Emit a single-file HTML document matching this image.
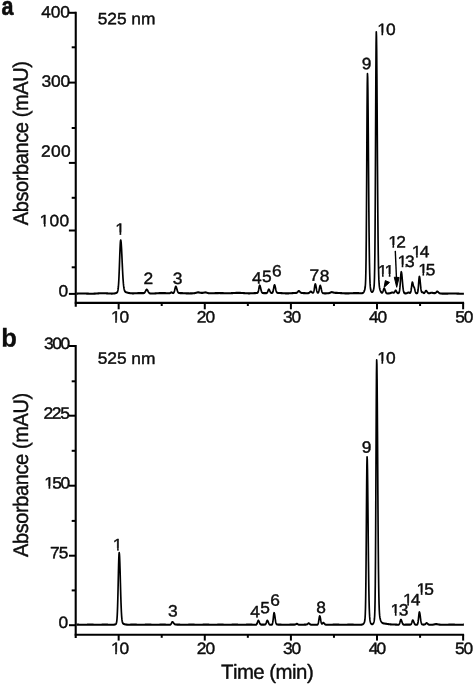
<!DOCTYPE html>
<html><head><meta charset="utf-8"><title>Chromatograms at 525 nm</title>
<style>
html,body{margin:0;padding:0;background:#fff}
svg{display:block}
text{font-family:"Liberation Sans",Arial,Helvetica,sans-serif;fill:#0d0d0d;stroke:#0d0d0d;stroke-width:0.4;stroke-linejoin:round;font-kerning:none;text-rendering:geometricPrecision}
line,path{stroke:#000}
</style></head><body>
<svg width="474" height="685" viewBox="0 0 474 685">
<rect x="0" y="0" width="474" height="685" fill="#fff" stroke="none"/>
<defs><clipPath id="c1"><path clip-rule="evenodd" d="M-60,-40H260V40H-60Z M0.45,-2.33H4.10V1.00H0.45Z M5.59,-2.33H9.12V1.00H5.59Z"/></clipPath>
<clipPath id="c2"><path clip-rule="evenodd" d="M-60,-40H260V40H-60Z M0.45,-2.33H4.10V1.00H0.45Z M5.59,-2.33H9.05V1.00H5.59Z"/></clipPath>
<clipPath id="c3"><path clip-rule="evenodd" d="M-60,-40H260V40H-60Z M0.45,-2.33H4.10V1.00H0.45Z M5.59,-2.33H9.12V1.00H5.59Z"/></clipPath>
<clipPath id="c4"><path clip-rule="evenodd" d="M-60,-40H260V40H-60Z M0.45,-2.33H4.10V1.00H0.45Z M5.59,-2.33H9.12V1.00H5.59Z"/></clipPath>
<clipPath id="c5"><path clip-rule="evenodd" d="M-60,-40H260V40H-60Z M0.45,-2.33H4.10V1.00H0.45Z M5.59,-2.33H10.52V1.00H5.59Z M12.01,-2.33H15.54V1.00H12.01Z"/></clipPath>
<clipPath id="c6"><path clip-rule="evenodd" d="M-60,-40H260V40H-60Z M0.45,-2.33H4.10V1.00H0.45Z M5.59,-2.33H8.30V1.00H5.59Z"/></clipPath>
<clipPath id="c7"><path clip-rule="evenodd" d="M-60,-40H260V40H-60Z M0.45,-2.33H4.10V1.00H0.45Z M5.59,-2.33H7.72V1.00H5.59Z"/></clipPath>
<clipPath id="c8"><path clip-rule="evenodd" d="M-60,-40H260V40H-60Z M0.45,-2.33H4.10V1.00H0.45Z M5.59,-2.33H9.12V1.00H5.59Z"/></clipPath>
<clipPath id="c9"><path clip-rule="evenodd" d="M-60,-40H260V40H-60Z M0.45,-2.33H4.10V1.00H0.45Z M5.59,-2.33H7.75V1.00H5.59Z"/></clipPath>
<clipPath id="c10"><path clip-rule="evenodd" d="M-60,-40H260V40H-60Z M0.45,-2.33H4.10V1.00H0.45Z M5.59,-2.33H8.20V1.00H5.59Z"/></clipPath>
<clipPath id="c11"><path clip-rule="evenodd" d="M-60,-40H260V40H-60Z M0.45,-2.33H4.10V1.00H0.45Z M5.59,-2.33H9.05V1.00H5.59Z"/></clipPath>
<clipPath id="c12"><path clip-rule="evenodd" d="M-60,-40H260V40H-60Z M0.45,-2.33H4.10V1.00H0.45Z M5.59,-2.33H9.12V1.00H5.59Z"/></clipPath>
<clipPath id="c13"><path clip-rule="evenodd" d="M-60,-40H260V40H-60Z M0.45,-2.33H4.10V1.00H0.45Z M5.59,-2.33H9.12V1.00H5.59Z"/></clipPath>
<clipPath id="c14"><path clip-rule="evenodd" d="M-60,-40H260V40H-60Z M0.45,-2.33H4.10V1.00H0.45Z M5.59,-2.33H8.38V1.00H5.59Z"/></clipPath>
<clipPath id="c15"><path clip-rule="evenodd" d="M-60,-40H260V40H-60Z M0.45,-2.33H4.10V1.00H0.45Z M5.59,-2.33H9.12V1.00H5.59Z"/></clipPath>
<clipPath id="c16"><path clip-rule="evenodd" d="M-60,-40H260V40H-60Z M0.45,-2.33H4.10V1.00H0.45Z M5.59,-2.33H8.03V1.00H5.59Z"/></clipPath></defs>
<line x1="75.75" y1="11.70" x2="75.75" y2="306.70" stroke-width="2.1"/>
<line x1="68.90" y1="12.80" x2="75.75" y2="12.80" stroke-width="2.0"/>
<line x1="68.90" y1="82.60" x2="75.75" y2="82.60" stroke-width="2.0"/>
<line x1="68.90" y1="162.90" x2="75.75" y2="162.90" stroke-width="2.0"/>
<line x1="68.90" y1="230.50" x2="75.75" y2="230.50" stroke-width="2.0"/>
<line x1="68.90" y1="293.90" x2="75.75" y2="293.90" stroke-width="2.0"/>
<line x1="71.70" y1="47.30" x2="75.75" y2="47.30" stroke-width="2.0"/>
<line x1="71.70" y1="128.00" x2="75.75" y2="128.00" stroke-width="2.0"/>
<line x1="71.70" y1="197.80" x2="75.75" y2="197.80" stroke-width="2.0"/>
<line x1="71.70" y1="267.30" x2="75.75" y2="267.30" stroke-width="2.0"/>
<line x1="74.75" y1="302.90" x2="464.10" y2="302.90" stroke-width="2.1"/>
<line x1="118.66" y1="302.90" x2="118.66" y2="309.30" stroke-width="2.0"/>
<line x1="161.72" y1="302.90" x2="161.72" y2="306.00" stroke-width="2.0"/>
<line x1="204.78" y1="302.90" x2="204.78" y2="309.30" stroke-width="2.0"/>
<line x1="247.84" y1="302.90" x2="247.84" y2="306.00" stroke-width="2.0"/>
<line x1="290.90" y1="302.90" x2="290.90" y2="309.30" stroke-width="2.0"/>
<line x1="333.96" y1="302.90" x2="333.96" y2="306.00" stroke-width="2.0"/>
<line x1="377.02" y1="302.90" x2="377.02" y2="309.30" stroke-width="2.0"/>
<line x1="420.08" y1="302.90" x2="420.08" y2="306.00" stroke-width="2.0"/>
<line x1="463.14" y1="302.90" x2="463.14" y2="309.30" stroke-width="2.0"/>
<text transform="translate(41.20,17.55) rotate(0.05) scale(1.0600,1.0)" font-size="16.4" letter-spacing="-0.154">400</text>
<text transform="translate(41.44,86.85) rotate(0.05) scale(1.0600,1.0)" font-size="16.4" letter-spacing="-0.171">300</text>
<text transform="translate(41.03,156.65) rotate(0.05) scale(1.0600,1.0)" font-size="16.4" letter-spacing="0.259">200</text>
<text transform="translate(39.58,226.35) rotate(0.05) scale(1.0600,1.0)" font-size="16.4" letter-spacing="0.235" clip-path="url(#c1)">100</text>
<text transform="translate(58.52,296.45) rotate(0.05) scale(1.0600,1.0)" font-size="16.4">0</text>
<text transform="translate(110.88,322.55) rotate(0.05) scale(1.0600,1.0)" font-size="16.4" letter-spacing="-1.069" clip-path="url(#c2)">10</text>
<text transform="translate(196.63,322.55) rotate(0.05) scale(1.0600,1.0)" font-size="16.4" letter-spacing="-0.833">20</text>
<text transform="translate(282.94,322.55) rotate(0.05) scale(1.0600,1.0)" font-size="16.4" letter-spacing="-1.128">30</text>
<text transform="translate(368.90,322.55) rotate(0.05) scale(1.0600,1.0)" font-size="16.4" letter-spacing="-0.904">40</text>
<text transform="translate(455.30,322.55) rotate(0.05) scale(1.0600,1.0)" font-size="16.4" letter-spacing="-1.095">50</text>
<text transform="translate(97.70,24.15) rotate(0.05) scale(1.0600,1.0)" font-size="16.4" letter-spacing="-0.046">525 nm</text>
<text transform="translate(28.00,225.14) rotate(-90.05) scale(1,1.05)" font-size="20.0" letter-spacing="-0.405">Absorbance (mAU)</text>
<text transform="translate(1.54,14.86) rotate(0.05) scale(0.8400,1.0)" font-size="25.6" font-weight="bold" style="stroke-width:0.6">a</text>
<text transform="translate(115.28,234.74) rotate(0.05) scale(1.0600,1.0)" font-size="16.4" clip-path="url(#c3)">1</text>
<text transform="translate(143.52,284.03) rotate(0.05) scale(1.0600,1.0)" font-size="16.4">2</text>
<text transform="translate(172.77,283.95) rotate(0.05) scale(1.0600,1.0)" font-size="16.4">3</text>
<text transform="translate(251.92,283.44) rotate(0.05) scale(1.0600,1.0)" font-size="16.4">4</text>
<text transform="translate(261.88,282.06) rotate(0.05) scale(1.0600,1.0)" font-size="16.4">5</text>
<text transform="translate(271.96,276.45) rotate(0.05) scale(1.0600,1.0)" font-size="16.4">6</text>
<text transform="translate(309.51,280.84) rotate(0.05) scale(1.0600,1.0)" font-size="16.4">7</text>
<text transform="translate(319.87,281.55) rotate(0.05) scale(1.0600,1.0)" font-size="16.4">8</text>
<text transform="translate(361.82,69.25) rotate(0.05) scale(1.0600,1.0)" font-size="16.4">9</text>
<text transform="translate(377.18,34.95) rotate(0.05) scale(1.0600,1.0)" font-size="16.4" letter-spacing="-0.880" clip-path="url(#c4)">10</text>
<text transform="translate(377.68,276.44) rotate(0.05) scale(1.0600,1.0)" font-size="16.4" letter-spacing="-2.701" clip-path="url(#c5)">11</text>
<text transform="translate(388.18,247.43) rotate(0.05) scale(1.0600,1.0)" font-size="16.4" letter-spacing="-1.545" clip-path="url(#c6)">12</text>
<text transform="translate(397.38,266.95) rotate(0.05) scale(1.0600,1.0)" font-size="16.4" letter-spacing="-2.027" clip-path="url(#c7)">13</text>
<text transform="translate(411.78,257.24) rotate(0.05) scale(1.0600,1.0)" font-size="16.4" letter-spacing="-1.606" clip-path="url(#c8)">14</text>
<text transform="translate(418.18,275.36) rotate(0.05) scale(1.0600,1.0)" font-size="16.4" letter-spacing="-1.964" clip-path="url(#c9)">15</text>
<path d="M395.3,250.9 L396.5,279" fill="none" stroke-width="1.4"/>
<path d="M394.3,277.2 L399.1,277.5 L396.7,287.3 Z" stroke="none" fill="#000"/>
<path d="M384.1,287.4 L385.3,280.6 L389.5,282.4 Z" stroke="none" fill="#000"/>
<g transform="scale(0.8,1)"><path d="M95.75,293.63 L96.00,293.63 L96.25,293.62 L96.50,293.61 L96.75,293.60 L97.00,293.60 L97.25,293.59 L97.50,293.58 L97.75,293.57 L98.00,293.57 L98.25,293.56 L98.50,293.55 L98.75,293.54 L99.00,293.54 L99.25,293.53 L99.50,293.52 L99.75,293.52 L100.00,293.51 L100.25,293.51 L100.50,293.50 L100.75,293.50 L101.00,293.49 L101.25,293.49 L101.50,293.49 L101.75,293.48 L102.00,293.48 L102.25,293.48 L102.50,293.48 L102.75,293.48 L103.00,293.48 L103.25,293.48 L103.50,293.48 L103.75,293.48 L104.00,293.48 L104.25,293.49 L104.50,293.49 L104.75,293.49 L105.00,293.50 L105.25,293.50 L105.50,293.51 L105.75,293.51 L106.00,293.52 L106.25,293.53 L106.50,293.53 L106.75,293.54 L107.00,293.55 L107.25,293.56 L107.50,293.56 L107.75,293.57 L108.00,293.58 L108.25,293.59 L108.50,293.60 L108.75,293.61 L109.00,293.61 L109.25,293.62 L109.50,293.63 L109.75,293.64 L110.00,293.65 L110.25,293.66 L110.50,293.66 L110.75,293.67 L111.00,293.68 L111.25,293.69 L111.50,293.69 L111.75,293.70 L112.00,293.70 L112.25,293.71 L112.50,293.71 L112.75,293.72 L113.00,293.72 L113.25,293.72 L113.50,293.72 L113.75,293.73 L114.00,293.73 L114.25,293.73 L114.50,293.73 L114.75,293.72 L115.00,293.72 L115.26,293.72 L115.51,293.71 L115.76,293.71 L116.01,293.71 L116.26,293.70 L116.51,293.69 L116.76,293.69 L117.01,293.68 L117.26,293.67 L117.51,293.66 L117.76,293.65 L118.01,293.64 L118.26,293.63 L118.51,293.62 L118.76,293.61 L119.01,293.59 L119.26,293.58 L119.51,293.57 L119.76,293.55 L120.01,293.54 L120.26,293.53 L120.51,293.51 L120.76,293.50 L121.01,293.48 L121.26,293.47 L121.51,293.45 L121.76,293.44 L122.01,293.43 L122.26,293.41 L122.51,293.40 L122.76,293.38 L123.01,293.37 L123.26,293.36 L123.51,293.34 L123.76,293.33 L124.01,293.32 L124.26,293.31 L124.51,293.30 L124.76,293.29 L125.01,293.28 L125.26,293.27 L125.51,293.26 L125.76,293.25 L126.01,293.24 L126.26,293.23 L126.51,293.23 L126.76,293.22 L127.01,293.22 L127.26,293.22 L127.51,293.21 L127.76,293.21 L128.01,293.21 L128.26,293.21 L128.51,293.21 L128.76,293.21 L129.01,293.21 L129.26,293.22 L129.51,293.22 L129.76,293.22 L130.01,293.23 L130.26,293.23 L130.51,293.24 L130.76,293.25 L131.01,293.26 L131.26,293.26 L131.51,293.27 L131.76,293.28 L132.01,293.29 L132.26,293.30 L132.51,293.31 L132.76,293.32 L133.01,293.34 L133.26,293.35 L133.51,293.36 L133.76,293.37 L134.01,293.38 L134.26,293.40 L134.51,293.41 L134.76,293.42 L135.01,293.43 L135.26,293.44 L135.51,293.46 L135.76,293.47 L136.01,293.48 L136.26,293.49 L136.51,293.50 L136.76,293.51 L137.01,293.52 L137.26,293.53 L137.51,293.54 L137.76,293.55 L138.01,293.56 L138.26,293.56 L138.51,293.57 L138.76,293.57 L139.01,293.58 L139.26,293.58 L139.51,293.58 L139.76,293.58 L140.01,293.58 L140.26,293.58 L140.51,293.58 L140.76,293.57 L141.01,293.57 L141.26,293.56 L141.51,293.55 L141.76,293.54 L142.01,293.52 L142.26,293.50 L142.51,293.48 L142.76,293.46 L143.01,293.43 L143.26,293.40 L143.51,293.37 L143.76,293.33 L144.01,293.29 L144.26,293.25 L144.51,293.20 L144.76,293.14 L145.01,293.08 L145.26,293.01 L145.51,292.93 L145.76,292.84 L146.01,292.71 L146.26,292.55 L146.51,292.32 L146.76,291.98 L147.01,291.49 L147.26,290.77 L147.51,289.73 L147.76,288.26 L148.01,286.25 L148.26,283.60 L148.51,280.23 L148.76,276.11 L149.01,271.30 L149.26,265.94 L149.51,260.27 L149.76,254.63 L150.01,249.43 L150.26,245.07 L150.51,241.95 L150.76,240.35 L151.01,240.32 L151.26,241.39 L151.51,243.43 L151.76,246.33 L152.01,249.91 L152.26,253.98 L152.51,258.34 L152.76,262.79 L153.01,267.14 L153.26,271.26 L153.51,275.03 L153.76,278.38 L154.02,281.27 L154.27,283.71 L154.52,285.71 L154.77,287.31 L155.02,288.57 L155.27,289.53 L155.52,290.26 L155.77,290.81 L156.02,291.21 L156.27,291.51 L156.52,291.73 L156.77,291.89 L157.02,292.02 L157.27,292.12 L157.52,292.21 L157.77,292.29 L158.02,292.35 L158.27,292.42 L158.52,292.48 L158.77,292.54 L159.02,292.59 L159.27,292.65 L159.52,292.70 L159.77,292.75 L160.02,292.80 L160.27,292.84 L160.52,292.89 L160.77,292.93 L161.02,292.97 L161.27,293.01 L161.52,293.05 L161.77,293.08 L162.02,293.11 L162.27,293.14 L162.52,293.17 L162.77,293.19 L163.02,293.22 L163.27,293.24 L163.52,293.25 L163.77,293.27 L164.02,293.29 L164.27,293.30 L164.52,293.31 L164.77,293.32 L165.02,293.33 L165.27,293.33 L165.52,293.34 L165.77,293.34 L166.02,293.34 L166.27,293.34 L166.52,293.34 L166.77,293.34 L167.02,293.34 L167.27,293.33 L167.52,293.33 L167.77,293.32 L168.02,293.31 L168.27,293.31 L168.52,293.30 L168.77,293.29 L169.02,293.28 L169.27,293.27 L169.52,293.26 L169.77,293.25 L170.02,293.24 L170.27,293.23 L170.52,293.22 L170.77,293.21 L171.02,293.20 L171.27,293.20 L171.52,293.19 L171.77,293.18 L172.02,293.17 L172.27,293.16 L172.52,293.15 L172.77,293.14 L173.02,293.14 L173.27,293.13 L173.52,293.12 L173.77,293.12 L174.02,293.11 L174.27,293.11 L174.52,293.10 L174.77,293.10 L175.02,293.10 L175.27,293.10 L175.52,293.10 L175.77,293.10 L176.02,293.10 L176.27,293.10 L176.52,293.10 L176.77,293.10 L177.02,293.11 L177.27,293.11 L177.52,293.11 L177.77,293.12 L178.02,293.12 L178.27,293.13 L178.52,293.13 L178.77,293.14 L179.02,293.13 L179.27,293.12 L179.52,293.10 L179.77,293.07 L180.02,293.01 L180.27,292.91 L180.52,292.78 L180.77,292.60 L181.02,292.37 L181.27,292.08 L181.52,291.74 L181.77,291.36 L182.02,290.96 L182.27,290.56 L182.52,290.19 L182.77,289.89 L183.02,289.68 L183.27,289.58 L183.52,289.59 L183.77,289.70 L184.02,289.89 L184.27,290.15 L184.52,290.47 L184.77,290.81 L185.02,291.18 L185.27,291.54 L185.52,291.88 L185.77,292.20 L186.02,292.48 L186.27,292.72 L186.52,292.92 L186.77,293.08 L187.02,293.21 L187.27,293.31 L187.52,293.38 L187.77,293.43 L188.02,293.47 L188.27,293.50 L188.52,293.51 L188.77,293.52 L189.02,293.53 L189.27,293.53 L189.52,293.53 L189.77,293.53 L190.02,293.53 L190.27,293.53 L190.52,293.52 L190.77,293.52 L191.02,293.51 L191.27,293.51 L191.52,293.50 L191.77,293.49 L192.02,293.48 L192.27,293.47 L192.52,293.46 L192.78,293.45 L193.03,293.44 L193.28,293.43 L193.53,293.42 L193.78,293.41 L194.03,293.39 L194.28,293.38 L194.53,293.37 L194.78,293.36 L195.03,293.34 L195.28,293.33 L195.53,293.32 L195.78,293.30 L196.03,293.29 L196.28,293.28 L196.53,293.27 L196.78,293.25 L197.03,293.24 L197.28,293.23 L197.53,293.22 L197.78,293.21 L198.03,293.19 L198.28,293.18 L198.53,293.17 L198.78,293.16 L199.03,293.16 L199.28,293.15 L199.53,293.14 L199.78,293.13 L200.03,293.12 L200.28,293.12 L200.53,293.11 L200.78,293.11 L201.03,293.10 L201.28,293.10 L201.53,293.10 L201.78,293.10 L202.03,293.09 L202.28,293.09 L202.53,293.09 L202.78,293.09 L203.03,293.09 L203.28,293.10 L203.53,293.10 L203.78,293.10 L204.03,293.10 L204.28,293.11 L204.53,293.11 L204.78,293.12 L205.03,293.12 L205.28,293.13 L205.53,293.13 L205.78,293.14 L206.03,293.14 L206.28,293.15 L206.53,293.16 L206.78,293.17 L207.03,293.17 L207.28,293.18 L207.53,293.19 L207.78,293.19 L208.03,293.20 L208.28,293.21 L208.53,293.22 L208.78,293.22 L209.03,293.23 L209.28,293.24 L209.53,293.24 L209.78,293.25 L210.03,293.25 L210.28,293.26 L210.53,293.26 L210.78,293.27 L211.03,293.27 L211.28,293.27 L211.53,293.26 L211.78,293.24 L212.03,293.21 L212.28,293.16 L212.53,293.09 L212.78,292.99 L213.03,292.86 L213.28,292.73 L213.53,292.60 L213.78,292.48 L214.03,292.41 L214.28,292.39 L214.53,292.42 L214.78,292.50 L215.03,292.61 L215.28,292.74 L215.53,292.87 L215.78,292.97 L216.03,293.05 L216.28,293.08 L216.53,293.07 L216.78,293.00 L217.03,292.86 L217.28,292.62 L217.53,292.27 L217.78,291.78 L218.03,291.15 L218.28,290.38 L218.53,289.52 L218.78,288.62 L219.03,287.79 L219.28,287.11 L219.53,286.68 L219.78,286.55 L220.03,286.68 L220.28,287.01 L220.53,287.52 L220.78,288.15 L221.03,288.85 L221.28,289.57 L221.53,290.26 L221.78,290.89 L222.03,291.43 L222.28,291.88 L222.53,292.24 L222.78,292.51 L223.03,292.70 L223.28,292.84 L223.53,292.93 L223.78,292.99 L224.03,293.03 L224.28,293.05 L224.53,293.07 L224.78,293.08 L225.03,293.08 L225.28,293.09 L225.53,293.09 L225.78,293.10 L226.03,293.10 L226.28,293.11 L226.53,293.11 L226.78,293.12 L227.03,293.13 L227.28,293.13 L227.53,293.14 L227.78,293.15 L228.03,293.16 L228.28,293.17 L228.53,293.18 L228.78,293.19 L229.03,293.20 L229.28,293.21 L229.53,293.22 L229.78,293.23 L230.03,293.24 L230.28,293.25 L230.53,293.26 L230.78,293.27 L231.03,293.28 L231.28,293.29 L231.54,293.30 L231.79,293.31 L232.04,293.32 L232.29,293.33 L232.54,293.34 L232.79,293.35 L233.04,293.36 L233.29,293.37 L233.54,293.38 L233.79,293.38 L234.04,293.39 L234.29,293.40 L234.54,293.40 L234.79,293.41 L235.04,293.41 L235.29,293.42 L235.54,293.42 L235.79,293.42 L236.04,293.42 L236.29,293.43 L236.54,293.43 L236.79,293.43 L237.04,293.42 L237.29,293.42 L237.54,293.42 L237.79,293.42 L238.04,293.41 L238.29,293.41 L238.54,293.40 L238.79,293.39 L239.04,293.39 L239.29,293.38 L239.54,293.37 L239.79,293.36 L240.04,293.35 L240.29,293.34 L240.54,293.33 L240.79,293.31 L241.04,293.30 L241.29,293.29 L241.54,293.27 L241.79,293.26 L242.04,293.24 L242.29,293.22 L242.54,293.21 L242.79,293.18 L243.04,293.16 L243.29,293.13 L243.54,293.10 L243.79,293.07 L244.04,293.03 L244.29,292.98 L244.54,292.94 L244.79,292.88 L245.04,292.83 L245.29,292.77 L245.54,292.71 L245.79,292.65 L246.04,292.59 L246.29,292.53 L246.54,292.48 L246.79,292.44 L247.04,292.40 L247.29,292.38 L247.54,292.37 L247.79,292.37 L248.04,292.38 L248.29,292.40 L248.54,292.42 L248.79,292.46 L249.04,292.50 L249.29,292.55 L249.54,292.59 L249.79,292.64 L250.04,292.68 L250.29,292.72 L250.54,292.76 L250.79,292.79 L251.04,292.81 L251.29,292.84 L251.54,292.86 L251.79,292.87 L252.04,292.88 L252.29,292.88 L252.54,292.88 L252.79,292.88 L253.04,292.87 L253.29,292.85 L253.54,292.83 L253.79,292.80 L254.04,292.77 L254.29,292.73 L254.54,292.69 L254.79,292.65 L255.04,292.60 L255.29,292.56 L255.54,292.51 L255.79,292.48 L256.04,292.45 L256.29,292.42 L256.54,292.41 L256.79,292.41 L257.04,292.43 L257.29,292.45 L257.54,292.49 L257.79,292.54 L258.04,292.59 L258.29,292.65 L258.54,292.72 L258.79,292.78 L259.04,292.85 L259.29,292.91 L259.54,292.97 L259.79,293.02 L260.04,293.07 L260.29,293.11 L260.54,293.15 L260.79,293.18 L261.04,293.21 L261.29,293.23 L261.54,293.24 L261.79,293.25 L262.04,293.26 L262.29,293.27 L262.54,293.28 L262.79,293.28 L263.04,293.28 L263.29,293.28 L263.54,293.28 L263.79,293.28 L264.04,293.28 L264.29,293.28 L264.54,293.27 L264.79,293.27 L265.04,293.27 L265.29,293.26 L265.54,293.26 L265.79,293.25 L266.04,293.24 L266.29,293.24 L266.54,293.23 L266.79,293.23 L267.04,293.22 L267.29,293.21 L267.54,293.20 L267.79,293.20 L268.04,293.19 L268.29,293.18 L268.54,293.17 L268.79,293.17 L269.04,293.16 L269.29,293.15 L269.54,293.14 L269.79,293.14 L270.05,293.13 L270.30,293.12 L270.55,293.12 L270.80,293.11 L271.05,293.11 L271.30,293.10 L271.55,293.10 L271.80,293.09 L272.05,293.09 L272.30,293.08 L272.55,293.08 L272.80,293.08 L273.05,293.08 L273.30,293.08 L273.55,293.07 L273.80,293.07 L274.05,293.07 L274.30,293.07 L274.55,293.08 L274.80,293.08 L275.05,293.08 L275.30,293.08 L275.55,293.08 L275.80,293.09 L276.05,293.09 L276.30,293.10 L276.55,293.10 L276.80,293.11 L277.05,293.11 L277.30,293.12 L277.55,293.12 L277.80,293.13 L278.05,293.14 L278.30,293.14 L278.55,293.15 L278.80,293.16 L279.05,293.17 L279.30,293.17 L279.55,293.18 L279.80,293.19 L280.05,293.20 L280.30,293.20 L280.55,293.21 L280.80,293.22 L281.05,293.22 L281.30,293.23 L281.55,293.24 L281.80,293.24 L282.05,293.25 L282.30,293.25 L282.55,293.26 L282.80,293.26 L283.05,293.26 L283.30,293.27 L283.55,293.27 L283.80,293.27 L284.05,293.27 L284.30,293.27 L284.55,293.27 L284.80,293.27 L285.05,293.27 L285.30,293.27 L285.55,293.27 L285.80,293.27 L286.05,293.26 L286.30,293.26 L286.55,293.25 L286.80,293.25 L287.05,293.24 L287.30,293.24 L287.55,293.23 L287.80,293.22 L288.05,293.21 L288.30,293.20 L288.55,293.19 L288.80,293.18 L289.05,293.17 L289.30,293.16 L289.55,293.15 L289.80,293.14 L290.05,293.13 L290.30,293.12 L290.55,293.11 L290.80,293.09 L291.05,293.08 L291.30,293.07 L291.55,293.06 L291.80,293.05 L292.05,293.03 L292.30,293.02 L292.55,293.01 L292.80,293.00 L293.05,292.99 L293.30,292.97 L293.55,292.96 L293.80,292.95 L294.05,292.94 L294.30,292.93 L294.55,292.92 L294.80,292.91 L295.05,292.91 L295.30,292.90 L295.55,292.89 L295.80,292.89 L296.05,292.88 L296.30,292.88 L296.55,292.87 L296.80,292.87 L297.05,292.87 L297.30,292.86 L297.55,292.86 L297.80,292.86 L298.05,292.86 L298.30,292.86 L298.55,292.87 L298.80,292.87 L299.05,292.87 L299.30,292.88 L299.55,292.88 L299.80,292.89 L300.05,292.89 L300.30,292.90 L300.55,292.91 L300.80,292.92 L301.05,292.93 L301.30,292.94 L301.55,292.95 L301.80,292.96 L302.05,292.97 L302.30,292.98 L302.55,293.00 L302.80,293.01 L303.05,293.02 L303.30,293.03 L303.55,293.05 L303.80,293.06 L304.05,293.07 L304.30,293.09 L304.55,293.10 L304.80,293.12 L305.05,293.13 L305.30,293.14 L305.55,293.16 L305.80,293.17 L306.05,293.18 L306.30,293.20 L306.55,293.21 L306.80,293.22 L307.05,293.23 L307.30,293.24 L307.55,293.26 L307.80,293.27 L308.05,293.27 L308.30,293.28 L308.55,293.29 L308.81,293.30 L309.06,293.31 L309.31,293.31 L309.56,293.32 L309.81,293.32 L310.06,293.33 L310.31,293.33 L310.56,293.33 L310.81,293.34 L311.06,293.34 L311.31,293.34 L311.56,293.34 L311.81,293.34 L312.06,293.33 L312.31,293.33 L312.56,293.33 L312.81,293.32 L313.06,293.32 L313.31,293.31 L313.56,293.31 L313.81,293.30 L314.06,293.30 L314.31,293.29 L314.56,293.28 L314.81,293.27 L315.06,293.26 L315.31,293.25 L315.56,293.24 L315.81,293.23 L316.06,293.22 L316.31,293.21 L316.56,293.20 L316.81,293.19 L317.06,293.18 L317.31,293.17 L317.56,293.16 L317.81,293.15 L318.06,293.14 L318.31,293.13 L318.56,293.12 L318.81,293.10 L319.06,293.09 L319.31,293.08 L319.56,293.08 L319.81,293.07 L320.06,293.06 L320.31,293.05 L320.56,293.04 L320.81,293.03 L321.06,293.01 L321.31,292.99 L321.56,292.95 L321.81,292.87 L322.06,292.72 L322.31,292.48 L322.56,292.10 L322.81,291.53 L323.06,290.76 L323.31,289.79 L323.56,288.68 L323.81,287.54 L324.06,286.51 L324.31,285.76 L324.56,285.41 L324.81,285.47 L325.06,285.84 L325.31,286.45 L325.56,287.25 L325.81,288.15 L326.06,289.07 L326.31,289.94 L326.56,290.72 L326.81,291.37 L327.06,291.89 L327.31,292.27 L327.56,292.55 L327.81,292.75 L328.06,292.88 L328.31,292.96 L328.56,293.01 L328.81,293.04 L329.06,293.06 L329.31,293.08 L329.56,293.09 L329.81,293.10 L330.06,293.10 L330.31,293.11 L330.56,293.12 L330.81,293.12 L331.06,293.13 L331.31,293.13 L331.56,293.14 L331.81,293.14 L332.06,293.15 L332.31,293.15 L332.56,293.14 L332.81,293.13 L333.06,293.11 L333.31,293.06 L333.56,292.97 L333.81,292.82 L334.06,292.59 L334.31,292.25 L334.56,291.81 L334.81,291.29 L335.06,290.72 L335.31,290.16 L335.56,289.71 L335.81,289.42 L336.06,289.36 L336.31,289.46 L336.56,289.71 L336.81,290.06 L337.06,290.48 L337.31,290.94 L337.56,291.38 L337.81,291.79 L338.06,292.13 L338.31,292.41 L338.56,292.63 L338.81,292.78 L339.06,292.89 L339.31,292.95 L339.56,292.98 L339.81,292.98 L340.06,292.95 L340.31,292.87 L340.56,292.72 L340.81,292.46 L341.06,292.06 L341.31,291.45 L341.56,290.63 L341.81,289.60 L342.06,288.43 L342.31,287.22 L342.56,286.13 L342.81,285.34 L343.06,284.97 L343.31,285.04 L343.56,285.42 L343.81,286.07 L344.06,286.90 L344.31,287.85 L344.56,288.81 L344.81,289.72 L345.06,290.53 L345.31,291.20 L345.56,291.73 L345.81,292.14 L346.06,292.42 L346.31,292.62 L346.56,292.75 L346.81,292.83 L347.06,292.88 L347.31,292.91 L347.57,292.93 L347.82,292.95 L348.07,292.96 L348.32,292.97 L348.57,292.97 L348.82,292.98 L349.07,292.99 L349.32,293.00 L349.57,293.01 L349.82,293.02 L350.07,293.03 L350.32,293.04 L350.57,293.05 L350.82,293.07 L351.07,293.08 L351.32,293.09 L351.57,293.10 L351.82,293.12 L352.07,293.13 L352.32,293.14 L352.57,293.16 L352.82,293.17 L353.07,293.18 L353.32,293.19 L353.57,293.21 L353.82,293.22 L354.07,293.23 L354.32,293.24 L354.57,293.25 L354.82,293.26 L355.07,293.28 L355.32,293.29 L355.57,293.30 L355.82,293.30 L356.07,293.31 L356.32,293.32 L356.57,293.33 L356.82,293.33 L357.07,293.34 L357.32,293.35 L357.57,293.35 L357.82,293.35 L358.07,293.36 L358.32,293.36 L358.57,293.36 L358.82,293.36 L359.07,293.36 L359.32,293.36 L359.57,293.36 L359.82,293.36 L360.07,293.35 L360.32,293.35 L360.57,293.34 L360.82,293.34 L361.07,293.33 L361.32,293.32 L361.57,293.32 L361.82,293.31 L362.07,293.30 L362.32,293.29 L362.57,293.28 L362.82,293.27 L363.07,293.26 L363.32,293.25 L363.57,293.23 L363.82,293.22 L364.07,293.21 L364.32,293.20 L364.57,293.18 L364.82,293.17 L365.07,293.16 L365.32,293.14 L365.57,293.13 L365.82,293.11 L366.07,293.10 L366.32,293.09 L366.57,293.07 L366.82,293.06 L367.07,293.05 L367.32,293.03 L367.57,293.02 L367.82,293.01 L368.07,293.00 L368.32,292.99 L368.57,292.98 L368.82,292.97 L369.07,292.96 L369.32,292.95 L369.57,292.94 L369.82,292.92 L370.07,292.91 L370.32,292.88 L370.57,292.85 L370.82,292.80 L371.07,292.72 L371.32,292.61 L371.57,292.46 L371.82,292.27 L372.07,292.05 L372.32,291.80 L372.57,291.54 L372.82,291.31 L373.07,291.13 L373.32,291.02 L373.57,291.01 L373.82,291.06 L374.07,291.17 L374.32,291.33 L374.57,291.52 L374.82,291.73 L375.07,291.95 L375.32,292.15 L375.57,292.34 L375.82,292.50 L376.07,292.64 L376.32,292.74 L376.57,292.83 L376.82,292.89 L377.07,292.94 L377.32,292.97 L377.57,293.00 L377.82,293.02 L378.07,293.03 L378.32,293.05 L378.57,293.06 L378.82,293.07 L379.07,293.08 L379.32,293.09 L379.57,293.10 L379.82,293.11 L380.07,293.12 L380.32,293.13 L380.57,293.14 L380.82,293.15 L381.07,293.15 L381.32,293.16 L381.57,293.17 L381.82,293.18 L382.07,293.18 L382.32,293.19 L382.57,293.19 L382.82,293.20 L383.07,293.20 L383.32,293.20 L383.57,293.21 L383.82,293.21 L384.07,293.21 L384.32,293.21 L384.57,293.20 L384.82,293.19 L385.07,293.17 L385.32,293.15 L385.57,293.11 L385.82,293.05 L386.07,292.96 L386.33,292.85 L386.58,292.71 L386.83,292.54 L387.08,292.35 L387.33,292.16 L387.58,291.96 L387.83,291.79 L388.08,291.66 L388.33,291.58 L388.58,291.56 L388.83,291.61 L389.08,291.71 L389.33,291.85 L389.58,292.03 L389.83,292.21 L390.08,292.40 L390.33,292.56 L390.58,292.69 L390.83,292.78 L391.08,292.82 L391.33,292.79 L391.58,292.66 L391.83,292.39 L392.08,291.94 L392.33,291.27 L392.58,290.34 L392.83,289.18 L393.08,287.86 L393.33,286.51 L393.58,285.31 L393.83,284.44 L394.08,284.06 L394.33,284.19 L394.58,284.75 L394.83,285.64 L395.08,286.76 L395.33,287.97 L395.58,289.14 L395.83,290.19 L396.08,291.06 L396.33,291.73 L396.58,292.22 L396.83,292.55 L397.08,292.74 L397.33,292.82 L397.58,292.79 L397.83,292.65 L398.08,292.36 L398.33,291.90 L398.58,291.23 L398.83,290.35 L399.08,289.30 L399.33,288.17 L399.58,287.08 L399.83,286.20 L400.08,285.68 L400.33,285.59 L400.58,285.84 L400.83,286.37 L401.08,287.10 L401.33,287.98 L401.58,288.90 L401.83,289.81 L402.08,290.63 L402.33,291.34 L402.58,291.92 L402.83,292.36 L403.08,292.69 L403.33,292.92 L403.58,293.07 L403.83,293.17 L404.08,293.23 L404.33,293.27 L404.58,293.30 L404.83,293.31 L405.08,293.32 L405.33,293.33 L405.58,293.33 L405.83,293.33 L406.08,293.33 L406.33,293.34 L406.58,293.34 L406.83,293.34 L407.08,293.34 L407.33,293.33 L407.58,293.33 L407.83,293.33 L408.08,293.32 L408.33,293.32 L408.58,293.31 L408.83,293.31 L409.08,293.30 L409.33,293.29 L409.58,293.28 L409.83,293.27 L410.08,293.26 L410.33,293.24 L410.58,293.22 L410.83,293.20 L411.08,293.16 L411.33,293.12 L411.58,293.07 L411.83,293.01 L412.08,292.94 L412.33,292.85 L412.58,292.76 L412.83,292.66 L413.08,292.56 L413.33,292.45 L413.58,292.36 L413.83,292.28 L414.08,292.21 L414.33,292.17 L414.58,292.16 L414.83,292.16 L415.08,292.17 L415.33,292.20 L415.58,292.24 L415.83,292.30 L416.08,292.35 L416.33,292.42 L416.58,292.48 L416.83,292.54 L417.08,292.60 L417.33,292.65 L417.58,292.70 L417.83,292.74 L418.08,292.77 L418.33,292.80 L418.58,292.82 L418.83,292.84 L419.08,292.86 L419.33,292.87 L419.58,292.88 L419.83,292.88 L420.08,292.89 L420.33,292.89 L420.58,292.90 L420.83,292.90 L421.08,292.90 L421.33,292.91 L421.58,292.91 L421.83,292.92 L422.08,292.93 L422.33,292.93 L422.58,292.94 L422.83,292.95 L423.08,292.96 L423.33,292.97 L423.58,292.98 L423.83,292.99 L424.08,293.00 L424.33,293.01 L424.58,293.03 L424.83,293.04 L425.09,293.05 L425.34,293.06 L425.59,293.08 L425.84,293.09 L426.09,293.11 L426.34,293.12 L426.59,293.13 L426.84,293.15 L427.09,293.16 L427.34,293.17 L427.59,293.19 L427.84,293.20 L428.09,293.21 L428.34,293.23 L428.59,293.24 L428.84,293.25 L429.09,293.26 L429.34,293.27 L429.59,293.28 L429.84,293.29 L430.09,293.30 L430.34,293.31 L430.59,293.32 L430.84,293.33 L431.09,293.34 L431.34,293.34 L431.59,293.35 L431.84,293.36 L432.09,293.36 L432.34,293.36 L432.59,293.37 L432.84,293.37 L433.09,293.37 L433.34,293.37 L433.59,293.37 L433.84,293.37 L434.09,293.37 L434.34,293.37 L434.59,293.37 L434.84,293.36 L435.09,293.36 L435.34,293.36 L435.59,293.35 L435.84,293.35 L436.09,293.34 L436.34,293.34 L436.59,293.33 L436.84,293.32 L437.09,293.32 L437.34,293.31 L437.59,293.30 L437.84,293.29 L438.09,293.28 L438.34,293.27 L438.59,293.27 L438.84,293.26 L439.09,293.25 L439.34,293.24 L439.59,293.23 L439.84,293.22 L440.09,293.21 L440.34,293.21 L440.59,293.20 L440.84,293.19 L441.09,293.18 L441.34,293.18 L441.59,293.17 L441.84,293.16 L442.09,293.16 L442.34,293.15 L442.59,293.15 L442.84,293.14 L443.09,293.14 L443.34,293.13 L443.59,293.13 L443.84,293.13 L444.09,293.12 L444.34,293.12 L444.59,293.12 L444.84,293.12 L445.09,293.12 L445.34,293.12 L445.59,293.12 L445.84,293.12 L446.09,293.13 L446.34,293.13 L446.59,293.13 L446.84,293.13 L447.09,293.14 L447.34,293.14 L447.59,293.15 L447.84,293.15 L448.09,293.16 L448.34,293.16 L448.59,293.17 L448.84,293.18 L449.09,293.18 L449.34,293.19 L449.59,293.20 L449.84,293.20 L450.09,293.21 L450.34,293.22 L450.59,293.22 L450.84,293.23 L451.09,293.23 L451.34,293.23 L451.59,293.23 L451.84,293.23 L452.09,293.22 L452.34,293.21 L452.59,293.19 L452.84,293.15 L453.09,293.11 L453.34,293.04 L453.59,292.95 L453.84,292.83 L454.09,292.67 L454.34,292.47 L454.59,292.22 L454.84,291.91 L455.09,291.54 L455.34,291.09 L455.59,290.56 L455.84,289.93 L456.09,289.15 L456.34,288.09 L456.59,286.49 L456.84,283.83 L457.09,279.20 L457.34,271.26 L457.59,258.32 L457.84,238.78 L458.09,211.90 L458.34,178.68 L458.59,142.49 L458.84,108.83 L459.09,84.14 L459.34,73.79 L459.59,77.27 L459.84,89.58 L460.09,109.14 L460.34,133.63 L460.59,160.43 L460.84,187.06 L461.09,211.53 L461.34,232.57 L461.59,249.60 L461.84,262.67 L462.09,272.21 L462.34,278.90 L462.59,283.41 L462.84,286.38 L463.09,288.32 L463.34,289.58 L463.59,290.41 L463.85,290.98 L464.10,291.38 L464.35,291.66 L464.60,291.85 L464.85,291.96 L465.10,292.00 L465.35,291.96 L465.60,291.85 L465.85,291.67 L466.10,291.40 L466.35,291.04 L466.60,290.59 L466.85,290.00 L467.10,289.23 L467.35,288.11 L467.60,286.34 L467.85,283.26 L468.10,277.79 L468.35,268.32 L468.60,252.82 L468.85,229.39 L469.10,197.17 L469.35,157.38 L469.60,114.06 L469.85,73.81 L470.10,44.30 L470.35,31.93 L470.60,35.96 L470.85,50.52 L471.10,73.67 L471.35,102.66 L471.60,134.36 L471.85,165.84 L472.10,194.75 L472.35,219.58 L472.60,239.67 L472.85,255.08 L473.10,266.35 L473.35,274.26 L473.60,279.63 L473.85,283.22 L474.10,285.61 L474.35,287.23 L474.60,288.39 L474.85,289.26 L475.10,289.95 L475.35,290.52 L475.60,291.00 L475.85,291.42 L476.10,291.77 L476.35,292.07 L476.60,292.32 L476.85,292.52 L477.10,292.66 L477.35,292.73 L477.60,292.72 L477.85,292.63 L478.10,292.42 L478.35,292.09 L478.60,291.64 L478.85,291.09 L479.10,290.46 L479.35,289.82 L479.60,289.24 L479.85,288.80 L480.10,288.55 L480.35,288.53 L480.60,288.71 L480.85,289.07 L481.10,289.56 L481.35,290.13 L481.60,290.74 L481.85,291.32 L482.10,291.85 L482.35,292.30 L482.60,292.67 L482.85,292.94 L483.10,293.14 L483.35,293.28 L483.60,293.36 L483.85,293.41 L484.10,293.44 L484.35,293.45 L484.60,293.46 L484.85,293.45 L485.10,293.44 L485.35,293.43 L485.60,293.42 L485.85,293.41 L486.10,293.39 L486.35,293.37 L486.60,293.35 L486.85,293.32 L487.10,293.28 L487.35,293.24 L487.60,293.19 L487.85,293.13 L488.10,293.06 L488.35,292.98 L488.60,292.90 L488.85,292.82 L489.10,292.74 L489.35,292.67 L489.60,292.60 L489.85,292.55 L490.10,292.52 L490.35,292.51 L490.60,292.52 L490.85,292.54 L491.10,292.58 L491.35,292.63 L491.60,292.68 L491.85,292.71 L492.10,292.72 L492.35,292.69 L492.60,292.61 L492.85,292.45 L493.10,292.21 L493.35,291.90 L493.60,291.54 L493.85,291.17 L494.10,290.84 L494.35,290.61 L494.60,290.53 L494.85,290.60 L495.10,290.82 L495.35,291.14 L495.60,291.53 L495.85,291.92 L496.10,292.28 L496.35,292.57 L496.60,292.80 L496.85,292.95 L497.10,293.05 L497.35,293.11 L497.60,293.14 L497.85,293.14 L498.10,293.11 L498.35,293.02 L498.60,292.84 L498.85,292.52 L499.10,291.96 L499.35,291.07 L499.60,289.75 L499.85,287.93 L500.10,285.59 L500.35,282.81 L500.60,279.80 L500.85,276.85 L501.10,274.33 L501.35,272.60 L501.60,271.93 L501.85,272.26 L502.10,273.32 L502.35,275.01 L502.61,277.16 L502.86,279.57 L503.11,282.04 L503.36,284.40 L503.61,286.52 L503.86,288.33 L504.11,289.80 L504.36,290.93 L504.61,291.77 L504.86,292.36 L505.11,292.76 L505.36,293.03 L505.61,293.19 L505.86,293.28 L506.11,293.34 L506.36,293.37 L506.61,293.38 L506.86,293.39 L507.11,293.38 L507.36,293.37 L507.61,293.35 L507.86,293.32 L508.11,293.28 L508.36,293.23 L508.61,293.16 L508.86,293.08 L509.11,292.99 L509.36,292.89 L509.61,292.78 L509.86,292.69 L510.11,292.61 L510.36,292.56 L510.61,292.54 L510.86,292.54 L511.11,292.58 L511.36,292.64 L511.61,292.72 L511.86,292.80 L512.11,292.87 L512.36,292.91 L512.61,292.89 L512.86,292.79 L513.11,292.54 L513.36,292.09 L513.61,291.39 L513.86,290.38 L514.11,289.07 L514.36,287.52 L514.61,285.86 L514.86,284.30 L515.11,283.06 L515.36,282.35 L515.61,282.26 L515.86,282.68 L516.11,283.47 L516.36,284.45 L516.61,285.41 L516.86,286.16 L517.11,286.63 L517.36,286.90 L517.61,287.15 L517.86,287.55 L518.11,288.19 L518.36,288.99 L518.61,289.89 L518.86,290.78 L519.11,291.58 L519.36,292.22 L519.61,292.68 L519.86,292.98 L520.11,293.16 L520.36,293.27 L520.61,293.32 L520.86,293.33 L521.11,293.32 L521.36,293.24 L521.61,293.08 L521.86,292.76 L522.11,292.17 L522.36,291.21 L522.61,289.77 L522.86,287.80 L523.11,285.35 L523.36,282.65 L523.61,280.03 L523.86,277.91 L524.11,276.71 L524.36,276.60 L524.61,277.31 L524.86,278.65 L525.11,280.48 L525.36,282.58 L525.61,284.72 L525.86,286.74 L526.11,288.49 L526.36,289.88 L526.61,290.92 L526.86,291.61 L527.11,292.01 L527.36,292.20 L527.61,292.26 L527.86,292.26 L528.11,292.26 L528.36,292.30 L528.61,292.40 L528.86,292.54 L529.11,292.71 L529.36,292.88 L529.61,293.02 L529.86,293.10 L530.11,293.11 L530.36,293.03 L530.61,292.86 L530.86,292.60 L531.11,292.28 L531.36,291.92 L531.61,291.54 L531.86,291.20 L532.11,290.94 L532.36,290.79 L532.61,290.77 L532.86,290.85 L533.11,291.00 L533.36,291.23 L533.61,291.50 L533.86,291.79 L534.11,292.08 L534.36,292.36 L534.61,292.60 L534.86,292.81 L535.11,292.97 L535.36,293.09 L535.61,293.18 L535.86,293.23 L536.11,293.25 L536.36,293.25 L536.61,293.24 L536.86,293.21 L537.11,293.17 L537.36,293.12 L537.61,293.06 L537.86,293.00 L538.11,292.94 L538.36,292.88 L538.61,292.83 L538.86,292.79 L539.11,292.76 L539.36,292.74 L539.61,292.74 L539.86,292.76 L540.11,292.78 L540.36,292.82 L540.61,292.86 L540.86,292.90 L541.11,292.95 L541.37,293.00 L541.62,293.04 L541.87,293.08 L542.12,293.11 L542.37,293.13 L542.62,293.15 L542.87,293.16 L543.12,293.17 L543.37,293.16 L543.62,293.14 L543.87,293.10 L544.12,293.04 L544.37,292.94 L544.62,292.80 L544.87,292.62 L545.12,292.42 L545.37,292.19 L545.62,291.96 L545.87,291.75 L546.12,291.60 L546.37,291.52 L546.62,291.53 L546.87,291.59 L547.12,291.69 L547.37,291.84 L547.62,292.01 L547.87,292.20 L548.12,292.39 L548.37,292.58 L548.62,292.76 L548.87,292.92 L549.12,293.06 L549.37,293.17 L549.62,293.27 L549.87,293.34 L550.12,293.40 L550.37,293.45 L550.62,293.48 L550.87,293.51 L551.12,293.53 L551.37,293.55 L551.62,293.56 L551.87,293.57 L552.12,293.58 L552.37,293.59 L552.62,293.60 L552.87,293.61 L553.12,293.62 L553.37,293.62 L553.62,293.63 L553.87,293.63 L554.12,293.64 L554.37,293.64 L554.62,293.64 L554.87,293.65 L555.12,293.65 L555.37,293.65 L555.62,293.65 L555.87,293.65 L556.12,293.65 L556.37,293.65 L556.62,293.65 L556.87,293.64 L557.12,293.64 L557.37,293.64 L557.62,293.63 L557.87,293.63 L558.12,293.62 L558.37,293.62 L558.62,293.61 L558.87,293.61 L559.12,293.60 L559.37,293.60 L559.62,293.59 L559.87,293.58 L560.12,293.58 L560.37,293.57 L560.62,293.56 L560.87,293.56 L561.12,293.55 L561.37,293.55 L561.62,293.54 L561.87,293.53 L562.12,293.53 L562.37,293.52 L562.62,293.52 L562.87,293.51 L563.12,293.51 L563.37,293.50 L563.62,293.50 L563.87,293.49 L564.12,293.49 L564.37,293.49 L564.62,293.48 L564.87,293.48 L565.12,293.48 L565.37,293.48 L565.62,293.48 L565.87,293.48 L566.12,293.48 L566.37,293.48 L566.62,293.48 L566.87,293.48 L567.12,293.49 L567.37,293.49 L567.62,293.49 L567.87,293.50 L568.12,293.50 L568.37,293.51 L568.62,293.51 L568.87,293.52 L569.12,293.53 L569.37,293.53 L569.62,293.54 L569.87,293.55 L570.12,293.55 L570.37,293.56 L570.62,293.57 L570.87,293.58 L571.12,293.59 L571.37,293.59 L571.62,293.60 L571.87,293.61 L572.12,293.62 L572.37,293.63 L572.62,293.63 L572.87,293.64 L573.12,293.65 L573.37,293.66 L573.62,293.67 L573.87,293.67 L574.12,293.68 L574.37,293.68 L574.62,293.69 L574.87,293.70 L575.12,293.70 L575.37,293.71 L575.62,293.71 L575.87,293.71 L576.12,293.72 L576.37,293.72 L576.62,293.72 L576.87,293.72 L577.12,293.72 L577.37,293.72 L577.62,293.72 L577.87,293.72 L578.12,293.72 L578.37,293.72 L578.62,293.71 L578.87,293.71 L579.12,293.70 L579.37,293.70 L579.62,293.69 L579.87,293.69" fill="none" stroke-width="2.1" stroke-linejoin="round" stroke-linecap="butt"/></g>
<line x1="75.70" y1="345.00" x2="75.70" y2="637.90" stroke-width="2.1"/>
<line x1="69.00" y1="346.00" x2="75.70" y2="346.00" stroke-width="2.0"/>
<line x1="69.00" y1="415.70" x2="75.70" y2="415.70" stroke-width="2.0"/>
<line x1="69.00" y1="485.70" x2="75.70" y2="485.70" stroke-width="2.0"/>
<line x1="69.00" y1="555.70" x2="75.70" y2="555.70" stroke-width="2.0"/>
<line x1="69.00" y1="625.20" x2="75.70" y2="625.20" stroke-width="2.0"/>
<line x1="71.70" y1="381.30" x2="75.70" y2="381.30" stroke-width="2.0"/>
<line x1="71.70" y1="450.80" x2="75.70" y2="450.80" stroke-width="2.0"/>
<line x1="71.70" y1="520.90" x2="75.70" y2="520.90" stroke-width="2.0"/>
<line x1="71.70" y1="590.40" x2="75.70" y2="590.40" stroke-width="2.0"/>
<line x1="74.70" y1="634.70" x2="464.10" y2="634.70" stroke-width="2.1"/>
<line x1="118.66" y1="634.70" x2="118.66" y2="640.60" stroke-width="2.0"/>
<line x1="161.72" y1="634.70" x2="161.72" y2="637.80" stroke-width="2.0"/>
<line x1="204.78" y1="634.70" x2="204.78" y2="640.60" stroke-width="2.0"/>
<line x1="247.84" y1="634.70" x2="247.84" y2="637.80" stroke-width="2.0"/>
<line x1="290.90" y1="634.70" x2="290.90" y2="640.60" stroke-width="2.0"/>
<line x1="333.96" y1="634.70" x2="333.96" y2="637.80" stroke-width="2.0"/>
<line x1="377.02" y1="634.70" x2="377.02" y2="640.60" stroke-width="2.0"/>
<line x1="420.08" y1="634.70" x2="420.08" y2="637.80" stroke-width="2.0"/>
<line x1="463.14" y1="634.70" x2="463.14" y2="640.60" stroke-width="2.0"/>
<text transform="translate(43.94,348.95) rotate(0.05) scale(1.0600,1.0)" font-size="16.4" letter-spacing="-1.351">300</text>
<text transform="translate(43.43,418.85) rotate(0.05) scale(1.0600,1.0)" font-size="16.4" letter-spacing="-1.179">225</text>
<text transform="translate(44.28,488.55) rotate(0.05) scale(1.0600,1.0)" font-size="16.4" letter-spacing="-1.510" clip-path="url(#c10)">150</text>
<text transform="translate(50.11,558.26) rotate(0.05) scale(1.0600,1.0)" font-size="16.4" letter-spacing="-1.052">75</text>
<text transform="translate(58.52,628.05) rotate(0.05) scale(1.0600,1.0)" font-size="16.4">0</text>
<text transform="translate(110.88,653.95) rotate(0.05) scale(1.0600,1.0)" font-size="16.4" letter-spacing="-1.069" clip-path="url(#c11)">10</text>
<text transform="translate(196.63,653.95) rotate(0.05) scale(1.0600,1.0)" font-size="16.4" letter-spacing="-0.833">20</text>
<text transform="translate(282.94,653.95) rotate(0.05) scale(1.0600,1.0)" font-size="16.4" letter-spacing="-1.128">30</text>
<text transform="translate(368.70,653.95) rotate(0.05) scale(1.0600,1.0)" font-size="16.4" letter-spacing="-1.659">40</text>
<text transform="translate(455.00,653.95) rotate(0.05) scale(1.0600,1.0)" font-size="16.4" letter-spacing="-1.001">50</text>
<text transform="translate(97.70,363.85) rotate(0.05) scale(1.0600,1.0)" font-size="16.4" letter-spacing="-0.046">525 nm</text>
<text transform="translate(28.10,556.94) rotate(-90.05) scale(1,1.05)" font-size="20.0" letter-spacing="-0.399">Absorbance (mAU)</text>
<text transform="translate(1.31,346.45) rotate(0.05) scale(1.0000,1.0)" font-size="25.6" font-weight="bold" style="stroke-width:0.3">b</text>
<text transform="translate(220.94,678.68) rotate(0.05) scale(1.0000,1.0)" font-size="20.4" letter-spacing="-0.515">Time (min)</text>
<text transform="translate(112.78,550.24) rotate(0.05) scale(1.0600,1.0)" font-size="16.4" clip-path="url(#c12)">1</text>
<text transform="translate(168.07,616.45) rotate(0.05) scale(1.0600,1.0)" font-size="16.4">3</text>
<text transform="translate(250.22,617.24) rotate(0.05) scale(1.0600,1.0)" font-size="16.4">4</text>
<text transform="translate(260.18,613.36) rotate(0.05) scale(1.0600,1.0)" font-size="16.4">5</text>
<text transform="translate(270.36,605.85) rotate(0.05) scale(1.0600,1.0)" font-size="16.4">6</text>
<text transform="translate(316.17,612.95) rotate(0.05) scale(1.0600,1.0)" font-size="16.4">8</text>
<text transform="translate(361.82,452.75) rotate(0.05) scale(1.0600,1.0)" font-size="16.4">9</text>
<text transform="translate(377.18,363.55) rotate(0.05) scale(1.0600,1.0)" font-size="16.4" letter-spacing="-0.880" clip-path="url(#c13)">10</text>
<text transform="translate(390.58,615.45) rotate(0.05) scale(1.0600,1.0)" font-size="16.4" letter-spacing="-1.366" clip-path="url(#c14)">13</text>
<text transform="translate(402.98,605.14) rotate(0.05) scale(1.0600,1.0)" font-size="16.4" letter-spacing="-1.889" clip-path="url(#c15)">14</text>
<text transform="translate(416.48,594.86) rotate(0.05) scale(1.0600,1.0)" font-size="16.4" letter-spacing="-1.681" clip-path="url(#c16)">15</text>
<g transform="scale(0.8,1)"><path d="M95.75,624.59 L96.00,624.59 L96.25,624.59 L96.50,624.60 L96.75,624.61 L97.00,624.61 L97.25,624.62 L97.50,624.63 L97.75,624.64 L98.00,624.65 L98.25,624.66 L98.50,624.66 L98.75,624.68 L99.00,624.69 L99.25,624.70 L99.50,624.71 L99.75,624.72 L100.00,624.73 L100.25,624.74 L100.50,624.75 L100.75,624.76 L101.00,624.77 L101.25,624.77 L101.50,624.78 L101.75,624.79 L102.00,624.80 L102.25,624.80 L102.50,624.81 L102.75,624.81 L103.00,624.81 L103.25,624.82 L103.50,624.82 L103.75,624.82 L104.00,624.82 L104.25,624.82 L104.50,624.82 L104.75,624.81 L105.00,624.81 L105.25,624.81 L105.50,624.80 L105.75,624.80 L106.00,624.79 L106.25,624.78 L106.50,624.77 L106.75,624.76 L107.00,624.76 L107.25,624.75 L107.50,624.74 L107.75,624.73 L108.00,624.72 L108.25,624.71 L108.50,624.70 L108.75,624.68 L109.00,624.67 L109.25,624.66 L109.50,624.65 L109.75,624.65 L110.00,624.64 L110.25,624.63 L110.50,624.62 L110.75,624.61 L111.00,624.61 L111.25,624.60 L111.50,624.59 L111.75,624.59 L112.00,624.59 L112.25,624.58 L112.50,624.58 L112.75,624.58 L113.00,624.58 L113.25,624.58 L113.50,624.58 L113.75,624.59 L114.00,624.59 L114.25,624.59 L114.50,624.60 L114.75,624.60 L115.00,624.61 L115.26,624.62 L115.51,624.63 L115.76,624.63 L116.01,624.64 L116.26,624.65 L116.51,624.66 L116.76,624.67 L117.01,624.68 L117.26,624.69 L117.51,624.70 L117.76,624.71 L118.01,624.72 L118.26,624.73 L118.51,624.74 L118.76,624.75 L119.01,624.76 L119.26,624.77 L119.51,624.78 L119.76,624.79 L120.01,624.79 L120.26,624.80 L120.51,624.81 L120.76,624.81 L121.01,624.81 L121.26,624.82 L121.51,624.82 L121.76,624.82 L122.01,624.82 L122.26,624.82 L122.51,624.82 L122.76,624.82 L123.01,624.81 L123.26,624.81 L123.51,624.80 L123.76,624.80 L124.01,624.79 L124.26,624.78 L124.51,624.78 L124.76,624.77 L125.01,624.76 L125.26,624.75 L125.51,624.74 L125.76,624.73 L126.01,624.72 L126.26,624.71 L126.51,624.70 L126.76,624.69 L127.01,624.68 L127.26,624.67 L127.51,624.66 L127.76,624.65 L128.01,624.64 L128.26,624.63 L128.51,624.62 L128.76,624.61 L129.01,624.61 L129.26,624.60 L129.51,624.60 L129.76,624.59 L130.01,624.59 L130.26,624.58 L130.51,624.58 L130.76,624.58 L131.01,624.58 L131.26,624.58 L131.51,624.58 L131.76,624.58 L132.01,624.59 L132.26,624.59 L132.51,624.60 L132.76,624.60 L133.01,624.61 L133.26,624.62 L133.51,624.62 L133.76,624.63 L134.01,624.64 L134.26,624.65 L134.51,624.66 L134.76,624.67 L135.01,624.68 L135.26,624.69 L135.51,624.70 L135.76,624.71 L136.01,624.72 L136.26,624.73 L136.51,624.74 L136.76,624.75 L137.01,624.76 L137.26,624.77 L137.51,624.78 L137.76,624.78 L138.01,624.79 L138.26,624.80 L138.51,624.80 L138.76,624.80 L139.01,624.81 L139.26,624.81 L139.51,624.81 L139.76,624.81 L140.01,624.81 L140.26,624.80 L140.51,624.79 L140.76,624.79 L141.01,624.78 L141.26,624.76 L141.51,624.75 L141.76,624.73 L142.01,624.71 L142.26,624.68 L142.51,624.65 L142.76,624.62 L143.01,624.59 L143.26,624.55 L143.51,624.50 L143.76,624.45 L144.01,624.39 L144.26,624.32 L144.51,624.22 L144.76,624.09 L145.01,623.89 L145.26,623.57 L145.51,623.05 L145.76,622.20 L146.01,620.86 L146.26,618.81 L146.51,615.82 L146.76,611.65 L147.01,606.15 L147.26,599.28 L147.51,591.22 L147.76,582.37 L148.01,573.39 L148.26,565.11 L148.51,558.42 L148.76,554.10 L149.01,552.70 L149.26,553.86 L149.51,557.04 L149.76,561.96 L150.01,568.20 L150.26,575.29 L150.51,582.71 L150.76,590.01 L151.01,596.82 L151.26,602.87 L151.51,608.03 L151.76,612.24 L152.01,615.56 L152.26,618.08 L152.51,619.93 L152.76,621.25 L153.01,622.17 L153.26,622.79 L153.51,623.21 L153.76,623.49 L154.02,623.68 L154.27,623.81 L154.52,623.92 L154.77,624.00 L155.02,624.07 L155.27,624.13 L155.52,624.19 L155.77,624.24 L156.02,624.30 L156.27,624.34 L156.52,624.39 L156.77,624.43 L157.02,624.47 L157.27,624.51 L157.52,624.54 L157.77,624.57 L158.02,624.59 L158.27,624.62 L158.52,624.64 L158.77,624.66 L159.02,624.67 L159.27,624.69 L159.52,624.70 L159.77,624.70 L160.02,624.71 L160.27,624.71 L160.52,624.72 L160.77,624.72 L161.02,624.72 L161.27,624.71 L161.52,624.71 L161.77,624.70 L162.02,624.70 L162.27,624.69 L162.52,624.68 L162.77,624.68 L163.02,624.67 L163.27,624.66 L163.52,624.65 L163.77,624.64 L164.02,624.64 L164.27,624.63 L164.52,624.62 L164.77,624.61 L165.02,624.61 L165.27,624.60 L165.52,624.60 L165.77,624.59 L166.02,624.59 L166.27,624.58 L166.52,624.58 L166.77,624.58 L167.02,624.58 L167.27,624.58 L167.52,624.58 L167.77,624.58 L168.02,624.59 L168.27,624.59 L168.52,624.59 L168.77,624.60 L169.02,624.61 L169.27,624.61 L169.52,624.62 L169.77,624.63 L170.02,624.64 L170.27,624.65 L170.52,624.66 L170.77,624.67 L171.02,624.68 L171.27,624.69 L171.52,624.70 L171.77,624.71 L172.02,624.72 L172.27,624.73 L172.52,624.74 L172.77,624.75 L173.02,624.76 L173.27,624.77 L173.52,624.77 L173.77,624.78 L174.02,624.79 L174.27,624.80 L174.52,624.80 L174.77,624.81 L175.02,624.81 L175.27,624.81 L175.52,624.82 L175.77,624.82 L176.02,624.82 L176.27,624.82 L176.52,624.82 L176.77,624.82 L177.02,624.81 L177.27,624.81 L177.52,624.81 L177.77,624.80 L178.02,624.79 L178.27,624.79 L178.52,624.78 L178.77,624.77 L179.02,624.76 L179.27,624.76 L179.52,624.75 L179.77,624.74 L180.02,624.73 L180.27,624.72 L180.52,624.70 L180.77,624.69 L181.02,624.68 L181.27,624.67 L181.52,624.66 L181.77,624.65 L182.02,624.64 L182.27,624.64 L182.52,624.63 L182.77,624.62 L183.02,624.61 L183.27,624.60 L183.52,624.60 L183.77,624.59 L184.02,624.59 L184.27,624.59 L184.52,624.58 L184.77,624.58 L185.02,624.58 L185.27,624.58 L185.52,624.58 L185.77,624.58 L186.02,624.59 L186.27,624.59 L186.52,624.59 L186.77,624.60 L187.02,624.60 L187.27,624.61 L187.52,624.62 L187.77,624.63 L188.02,624.63 L188.27,624.64 L188.52,624.65 L188.77,624.66 L189.02,624.67 L189.27,624.68 L189.52,624.69 L189.77,624.70 L190.02,624.71 L190.27,624.72 L190.52,624.73 L190.77,624.74 L191.02,624.75 L191.27,624.76 L191.52,624.77 L191.77,624.78 L192.02,624.79 L192.27,624.79 L192.52,624.80 L192.78,624.81 L193.03,624.81 L193.28,624.81 L193.53,624.82 L193.78,624.82 L194.03,624.82 L194.28,624.82 L194.53,624.82 L194.78,624.82 L195.03,624.81 L195.28,624.81 L195.53,624.81 L195.78,624.80 L196.03,624.80 L196.28,624.79 L196.53,624.78 L196.78,624.77 L197.03,624.77 L197.28,624.76 L197.53,624.75 L197.78,624.74 L198.03,624.73 L198.28,624.72 L198.53,624.71 L198.78,624.70 L199.03,624.69 L199.28,624.68 L199.53,624.67 L199.78,624.66 L200.03,624.65 L200.28,624.64 L200.53,624.63 L200.78,624.62 L201.03,624.61 L201.28,624.61 L201.53,624.60 L201.78,624.59 L202.03,624.59 L202.28,624.59 L202.53,624.58 L202.78,624.58 L203.03,624.58 L203.28,624.58 L203.53,624.58 L203.78,624.58 L204.03,624.58 L204.28,624.59 L204.53,624.59 L204.78,624.60 L205.03,624.60 L205.28,624.61 L205.53,624.62 L205.78,624.62 L206.03,624.63 L206.28,624.64 L206.53,624.65 L206.78,624.66 L207.03,624.67 L207.28,624.68 L207.53,624.69 L207.78,624.70 L208.03,624.71 L208.28,624.72 L208.53,624.73 L208.78,624.74 L209.03,624.75 L209.28,624.76 L209.53,624.77 L209.78,624.78 L210.03,624.79 L210.28,624.79 L210.53,624.80 L210.78,624.80 L211.03,624.81 L211.28,624.81 L211.53,624.81 L211.78,624.81 L212.03,624.80 L212.28,624.77 L212.53,624.73 L212.78,624.67 L213.03,624.56 L213.28,624.41 L213.53,624.20 L213.78,623.93 L214.03,623.60 L214.28,623.24 L214.53,622.85 L214.78,622.49 L215.03,622.20 L215.28,622.01 L215.53,621.95 L215.78,621.99 L216.03,622.10 L216.28,622.28 L216.53,622.50 L216.78,622.76 L217.03,623.03 L217.28,623.30 L217.53,623.55 L217.78,623.78 L218.03,623.98 L218.28,624.14 L218.53,624.27 L218.78,624.37 L219.03,624.44 L219.28,624.49 L219.53,624.53 L219.78,624.55 L220.03,624.56 L220.28,624.57 L220.53,624.57 L220.78,624.58 L221.03,624.58 L221.28,624.58 L221.53,624.58 L221.78,624.58 L222.03,624.58 L222.28,624.59 L222.53,624.59 L222.78,624.60 L223.03,624.60 L223.28,624.61 L223.53,624.61 L223.78,624.62 L224.03,624.63 L224.28,624.64 L224.53,624.65 L224.78,624.66 L225.03,624.67 L225.28,624.68 L225.53,624.69 L225.78,624.70 L226.03,624.71 L226.28,624.72 L226.53,624.73 L226.78,624.74 L227.03,624.75 L227.28,624.76 L227.53,624.77 L227.78,624.78 L228.03,624.78 L228.28,624.79 L228.53,624.80 L228.78,624.80 L229.03,624.81 L229.28,624.81 L229.53,624.82 L229.78,624.82 L230.03,624.82 L230.28,624.82 L230.53,624.82 L230.78,624.82 L231.03,624.82 L231.28,624.81 L231.54,624.81 L231.79,624.80 L232.04,624.80 L232.29,624.79 L232.54,624.79 L232.79,624.78 L233.04,624.77 L233.29,624.76 L233.54,624.75 L233.79,624.74 L234.04,624.73 L234.29,624.72 L234.54,624.71 L234.79,624.70 L235.04,624.69 L235.29,624.68 L235.54,624.67 L235.79,624.66 L236.04,624.65 L236.29,624.64 L236.54,624.63 L236.79,624.62 L237.04,624.62 L237.29,624.61 L237.54,624.60 L237.79,624.60 L238.04,624.59 L238.29,624.59 L238.54,624.58 L238.79,624.58 L239.04,624.58 L239.29,624.58 L239.54,624.58 L239.79,624.58 L240.04,624.58 L240.29,624.59 L240.54,624.59 L240.79,624.59 L241.04,624.60 L241.29,624.61 L241.54,624.61 L241.79,624.62 L242.04,624.63 L242.29,624.64 L242.54,624.65 L242.79,624.66 L243.04,624.67 L243.29,624.68 L243.54,624.69 L243.79,624.70 L244.04,624.71 L244.29,624.72 L244.54,624.73 L244.79,624.74 L245.04,624.75 L245.29,624.76 L245.54,624.77 L245.79,624.77 L246.04,624.78 L246.29,624.79 L246.54,624.80 L246.79,624.80 L247.04,624.81 L247.29,624.81 L247.54,624.81 L247.79,624.82 L248.04,624.82 L248.29,624.82 L248.54,624.82 L248.79,624.82 L249.04,624.82 L249.29,624.81 L249.54,624.81 L249.79,624.81 L250.04,624.80 L250.29,624.79 L250.54,624.79 L250.79,624.78 L251.04,624.77 L251.29,624.76 L251.54,624.75 L251.79,624.75 L252.04,624.74 L252.29,624.73 L252.54,624.71 L252.79,624.70 L253.04,624.69 L253.29,624.68 L253.54,624.67 L253.79,624.66 L254.04,624.65 L254.29,624.64 L254.54,624.64 L254.79,624.63 L255.04,624.62 L255.29,624.61 L255.54,624.60 L255.79,624.60 L256.04,624.59 L256.29,624.59 L256.54,624.59 L256.79,624.58 L257.04,624.58 L257.29,624.58 L257.54,624.58 L257.79,624.58 L258.04,624.58 L258.29,624.59 L258.54,624.59 L258.79,624.59 L259.04,624.60 L259.29,624.60 L259.54,624.61 L259.79,624.62 L260.04,624.63 L260.29,624.64 L260.54,624.64 L260.79,624.65 L261.04,624.66 L261.29,624.67 L261.54,624.68 L261.79,624.69 L262.04,624.70 L262.29,624.72 L262.54,624.73 L262.79,624.74 L263.04,624.75 L263.29,624.75 L263.54,624.76 L263.79,624.77 L264.04,624.78 L264.29,624.79 L264.54,624.79 L264.79,624.80 L265.04,624.81 L265.29,624.81 L265.54,624.81 L265.79,624.82 L266.04,624.82 L266.29,624.82 L266.54,624.82 L266.79,624.82 L267.04,624.82 L267.29,624.81 L267.54,624.81 L267.79,624.81 L268.04,624.80 L268.29,624.80 L268.54,624.79 L268.79,624.78 L269.04,624.77 L269.29,624.77 L269.54,624.76 L269.79,624.75 L270.05,624.74 L270.30,624.73 L270.55,624.72 L270.80,624.71 L271.05,624.70 L271.30,624.69 L271.55,624.68 L271.80,624.67 L272.05,624.66 L272.30,624.65 L272.55,624.64 L272.80,624.63 L273.05,624.62 L273.30,624.61 L273.55,624.61 L273.80,624.60 L274.05,624.59 L274.30,624.59 L274.55,624.59 L274.80,624.58 L275.05,624.58 L275.30,624.58 L275.55,624.58 L275.80,624.58 L276.05,624.58 L276.30,624.58 L276.55,624.59 L276.80,624.59 L277.05,624.60 L277.30,624.60 L277.55,624.61 L277.80,624.62 L278.05,624.62 L278.30,624.63 L278.55,624.64 L278.80,624.65 L279.05,624.66 L279.30,624.67 L279.55,624.68 L279.80,624.69 L280.05,624.70 L280.30,624.71 L280.55,624.72 L280.80,624.73 L281.05,624.74 L281.30,624.75 L281.55,624.76 L281.80,624.77 L282.05,624.78 L282.30,624.79 L282.55,624.79 L282.80,624.80 L283.05,624.80 L283.30,624.81 L283.55,624.81 L283.80,624.82 L284.05,624.82 L284.30,624.82 L284.55,624.82 L284.80,624.82 L285.05,624.82 L285.30,624.82 L285.55,624.81 L285.80,624.81 L286.05,624.80 L286.30,624.80 L286.55,624.79 L286.80,624.78 L287.05,624.78 L287.30,624.77 L287.55,624.76 L287.80,624.75 L288.05,624.74 L288.30,624.73 L288.55,624.72 L288.80,624.71 L289.05,624.70 L289.30,624.69 L289.55,624.68 L289.80,624.67 L290.05,624.66 L290.30,624.65 L290.55,624.64 L290.80,624.63 L291.05,624.62 L291.30,624.61 L291.55,624.61 L291.80,624.60 L292.05,624.60 L292.30,624.59 L292.55,624.59 L292.80,624.58 L293.05,624.58 L293.30,624.58 L293.55,624.58 L293.80,624.58 L294.05,624.58 L294.30,624.58 L294.55,624.59 L294.80,624.59 L295.05,624.60 L295.30,624.60 L295.55,624.61 L295.80,624.62 L296.05,624.62 L296.30,624.63 L296.55,624.64 L296.80,624.65 L297.05,624.66 L297.30,624.67 L297.55,624.68 L297.80,624.69 L298.05,624.70 L298.30,624.71 L298.55,624.72 L298.80,624.73 L299.05,624.74 L299.30,624.75 L299.55,624.76 L299.80,624.77 L300.05,624.78 L300.30,624.78 L300.55,624.79 L300.80,624.80 L301.05,624.80 L301.30,624.81 L301.55,624.81 L301.80,624.82 L302.05,624.82 L302.30,624.82 L302.55,624.82 L302.80,624.82 L303.05,624.82 L303.30,624.82 L303.55,624.81 L303.80,624.81 L304.05,624.80 L304.30,624.80 L304.55,624.79 L304.80,624.79 L305.05,624.78 L305.30,624.77 L305.55,624.76 L305.80,624.75 L306.05,624.74 L306.30,624.73 L306.55,624.72 L306.80,624.71 L307.05,624.70 L307.30,624.69 L307.55,624.68 L307.80,624.67 L308.05,624.66 L308.30,624.65 L308.55,624.64 L308.81,624.63 L309.06,624.62 L309.31,624.62 L309.56,624.61 L309.81,624.60 L310.06,624.60 L310.31,624.59 L310.56,624.59 L310.81,624.58 L311.06,624.58 L311.31,624.58 L311.56,624.58 L311.81,624.58 L312.06,624.58 L312.31,624.58 L312.56,624.59 L312.81,624.59 L313.06,624.59 L313.31,624.60 L313.56,624.61 L313.81,624.61 L314.06,624.62 L314.31,624.63 L314.56,624.64 L314.81,624.65 L315.06,624.66 L315.31,624.67 L315.56,624.68 L315.81,624.69 L316.06,624.70 L316.31,624.71 L316.56,624.72 L316.81,624.73 L317.06,624.74 L317.31,624.75 L317.56,624.76 L317.81,624.77 L318.06,624.77 L318.31,624.78 L318.56,624.79 L318.81,624.80 L319.06,624.80 L319.31,624.80 L319.56,624.79 L319.81,624.78 L320.06,624.74 L320.31,624.66 L320.56,624.53 L320.81,624.32 L321.06,624.01 L321.31,623.59 L321.56,623.05 L321.81,622.43 L322.06,621.80 L322.31,621.22 L322.56,620.80 L322.81,620.60 L323.06,620.63 L323.31,620.82 L323.56,621.15 L323.81,621.58 L324.06,622.06 L324.31,622.56 L324.56,623.03 L324.81,623.45 L325.06,623.79 L325.31,624.06 L325.56,624.26 L325.81,624.41 L326.06,624.50 L326.31,624.56 L326.56,624.59 L326.81,624.61 L327.06,624.61 L327.31,624.61 L327.56,624.61 L327.81,624.60 L328.06,624.60 L328.31,624.59 L328.56,624.59 L328.81,624.59 L329.06,624.58 L329.31,624.58 L329.56,624.58 L329.81,624.58 L330.06,624.58 L330.31,624.58 L330.56,624.58 L330.81,624.57 L331.06,624.56 L331.31,624.52 L331.56,624.45 L331.81,624.32 L332.06,624.12 L332.31,623.82 L332.56,623.40 L332.81,622.87 L333.06,622.27 L333.31,621.65 L333.56,621.09 L333.81,620.69 L334.06,620.50 L334.31,620.55 L334.56,620.76 L334.81,621.11 L335.06,621.56 L335.31,622.07 L335.56,622.59 L335.81,623.07 L336.06,623.51 L336.31,623.87 L336.56,624.16 L336.81,624.38 L337.06,624.54 L337.31,624.64 L337.56,624.71 L337.81,624.76 L338.06,624.79 L338.31,624.80 L338.56,624.81 L338.81,624.81 L339.06,624.81 L339.31,624.79 L339.56,624.76 L339.81,624.68 L340.06,624.52 L340.31,624.24 L340.56,623.74 L340.81,622.97 L341.06,621.84 L341.31,620.34 L341.56,618.55 L341.81,616.64 L342.06,614.88 L342.31,613.57 L342.56,612.95 L342.81,613.07 L343.06,613.69 L343.31,614.72 L343.56,616.05 L343.81,617.53 L344.06,619.00 L344.31,620.36 L344.56,621.54 L344.81,622.48 L345.06,623.20 L345.31,623.71 L345.56,624.06 L345.81,624.29 L346.06,624.42 L346.31,624.50 L346.56,624.54 L346.81,624.56 L347.06,624.57 L347.31,624.58 L347.57,624.58 L347.82,624.58 L348.07,624.58 L348.32,624.58 L348.57,624.58 L348.82,624.59 L349.07,624.59 L349.32,624.60 L349.57,624.60 L349.82,624.61 L350.07,624.62 L350.32,624.63 L350.57,624.63 L350.82,624.64 L351.07,624.65 L351.32,624.66 L351.57,624.67 L351.82,624.68 L352.07,624.69 L352.32,624.70 L352.57,624.71 L352.82,624.72 L353.07,624.73 L353.32,624.74 L353.57,624.75 L353.82,624.76 L354.07,624.77 L354.32,624.78 L354.57,624.79 L354.82,624.79 L355.07,624.80 L355.32,624.81 L355.57,624.81 L355.82,624.81 L356.07,624.82 L356.32,624.82 L356.57,624.82 L356.82,624.82 L357.07,624.82 L357.32,624.82 L357.57,624.82 L357.82,624.81 L358.07,624.81 L358.32,624.80 L358.57,624.80 L358.82,624.79 L359.07,624.78 L359.32,624.78 L359.57,624.77 L359.82,624.76 L360.07,624.75 L360.32,624.74 L360.57,624.73 L360.82,624.72 L361.07,624.71 L361.32,624.70 L361.57,624.69 L361.82,624.68 L362.07,624.67 L362.32,624.66 L362.57,624.65 L362.82,624.64 L363.07,624.63 L363.32,624.62 L363.57,624.61 L363.82,624.61 L364.07,624.60 L364.32,624.60 L364.57,624.59 L364.82,624.59 L365.07,624.58 L365.32,624.58 L365.57,624.58 L365.82,624.58 L366.07,624.58 L366.32,624.58 L366.57,624.58 L366.82,624.59 L367.07,624.59 L367.32,624.59 L367.57,624.60 L367.82,624.60 L368.07,624.59 L368.32,624.58 L368.57,624.56 L368.82,624.53 L369.07,624.48 L369.32,624.41 L369.57,624.32 L369.82,624.22 L370.07,624.11 L370.32,624.00 L370.57,623.91 L370.82,623.85 L371.07,623.83 L371.32,623.85 L371.57,623.92 L371.82,624.02 L372.07,624.14 L372.32,624.27 L372.57,624.39 L372.82,624.50 L373.07,624.60 L373.32,624.67 L373.57,624.72 L373.82,624.76 L374.07,624.79 L374.32,624.80 L374.57,624.81 L374.82,624.82 L375.07,624.82 L375.32,624.82 L375.57,624.82 L375.82,624.81 L376.07,624.81 L376.32,624.80 L376.57,624.80 L376.82,624.79 L377.07,624.79 L377.32,624.78 L377.57,624.77 L377.82,624.76 L378.07,624.75 L378.32,624.74 L378.57,624.73 L378.82,624.72 L379.07,624.71 L379.32,624.70 L379.57,624.69 L379.82,624.68 L380.07,624.67 L380.32,624.66 L380.57,624.65 L380.82,624.64 L381.07,624.63 L381.32,624.62 L381.57,624.62 L381.82,624.61 L382.07,624.60 L382.32,624.59 L382.57,624.57 L382.82,624.55 L383.07,624.53 L383.32,624.48 L383.57,624.42 L383.82,624.33 L384.07,624.22 L384.32,624.08 L384.57,623.92 L384.82,623.75 L385.07,623.58 L385.32,623.44 L385.57,623.35 L385.82,623.31 L386.07,623.33 L386.33,623.42 L386.58,623.56 L386.83,623.73 L387.08,623.91 L387.33,624.09 L387.58,624.25 L387.83,624.39 L388.08,624.50 L388.33,624.58 L388.58,624.64 L388.83,624.68 L389.08,624.71 L389.33,624.73 L389.58,624.74 L389.83,624.76 L390.08,624.77 L390.33,624.77 L390.58,624.78 L390.83,624.79 L391.08,624.80 L391.33,624.80 L391.58,624.81 L391.83,624.81 L392.08,624.82 L392.33,624.82 L392.58,624.82 L392.83,624.82 L393.08,624.82 L393.33,624.82 L393.58,624.82 L393.83,624.81 L394.08,624.81 L394.33,624.81 L394.58,624.80 L394.83,624.79 L395.08,624.79 L395.33,624.78 L395.58,624.77 L395.83,624.76 L396.08,624.75 L396.33,624.73 L396.58,624.69 L396.83,624.62 L397.08,624.50 L397.33,624.28 L397.58,623.90 L397.83,623.31 L398.08,622.47 L398.33,621.36 L398.58,620.04 L398.83,618.65 L399.08,617.38 L399.33,616.45 L399.58,616.03 L399.83,616.15 L400.08,616.67 L400.33,617.52 L400.58,618.59 L400.83,619.73 L401.08,620.84 L401.33,621.82 L401.58,622.61 L401.83,623.19 L402.08,623.56 L402.33,623.74 L402.58,623.76 L402.83,623.66 L403.08,623.47 L403.33,623.24 L403.58,623.03 L403.83,622.87 L404.08,622.81 L404.33,622.84 L404.58,622.94 L404.83,623.10 L405.08,623.30 L405.33,623.52 L405.58,623.75 L405.83,623.96 L406.08,624.16 L406.33,624.32 L406.58,624.44 L406.83,624.54 L407.08,624.62 L407.33,624.67 L407.58,624.71 L407.83,624.73 L408.08,624.75 L408.33,624.77 L408.58,624.78 L408.83,624.79 L409.08,624.79 L409.33,624.80 L409.58,624.81 L409.83,624.81 L410.08,624.81 L410.33,624.82 L410.58,624.82 L410.83,624.82 L411.08,624.82 L411.33,624.82 L411.58,624.82 L411.83,624.81 L412.08,624.81 L412.33,624.81 L412.58,624.80 L412.83,624.80 L413.08,624.79 L413.33,624.78 L413.58,624.77 L413.83,624.76 L414.08,624.76 L414.33,624.75 L414.58,624.74 L414.83,624.73 L415.08,624.72 L415.33,624.71 L415.58,624.70 L415.83,624.69 L416.08,624.67 L416.33,624.66 L416.58,624.65 L416.83,624.65 L417.08,624.64 L417.33,624.63 L417.58,624.62 L417.83,624.61 L418.08,624.61 L418.33,624.60 L418.58,624.59 L418.83,624.59 L419.08,624.59 L419.33,624.58 L419.58,624.58 L419.83,624.58 L420.08,624.58 L420.33,624.58 L420.58,624.58 L420.83,624.59 L421.08,624.59 L421.33,624.59 L421.58,624.60 L421.83,624.60 L422.08,624.61 L422.33,624.62 L422.58,624.63 L422.83,624.63 L423.08,624.64 L423.33,624.65 L423.58,624.66 L423.83,624.67 L424.08,624.68 L424.33,624.69 L424.58,624.70 L424.83,624.71 L425.09,624.72 L425.34,624.73 L425.59,624.74 L425.84,624.75 L426.09,624.76 L426.34,624.77 L426.59,624.78 L426.84,624.79 L427.09,624.79 L427.34,624.80 L427.59,624.81 L427.84,624.81 L428.09,624.81 L428.34,624.82 L428.59,624.82 L428.84,624.82 L429.09,624.82 L429.34,624.82 L429.59,624.82 L429.84,624.82 L430.09,624.81 L430.34,624.81 L430.59,624.80 L430.84,624.80 L431.09,624.79 L431.34,624.78 L431.59,624.78 L431.84,624.77 L432.09,624.76 L432.34,624.75 L432.59,624.74 L432.84,624.73 L433.09,624.72 L433.34,624.71 L433.59,624.70 L433.84,624.69 L434.09,624.68 L434.34,624.67 L434.59,624.66 L434.84,624.65 L435.09,624.64 L435.34,624.63 L435.59,624.62 L435.84,624.61 L436.09,624.61 L436.34,624.60 L436.59,624.60 L436.84,624.59 L437.09,624.59 L437.34,624.58 L437.59,624.58 L437.84,624.58 L438.09,624.58 L438.34,624.58 L438.59,624.58 L438.84,624.58 L439.09,624.59 L439.34,624.59 L439.59,624.60 L439.84,624.60 L440.09,624.61 L440.34,624.62 L440.59,624.62 L440.84,624.63 L441.09,624.64 L441.34,624.65 L441.59,624.66 L441.84,624.67 L442.09,624.68 L442.34,624.69 L442.59,624.70 L442.84,624.71 L443.09,624.72 L443.34,624.73 L443.59,624.74 L443.84,624.75 L444.09,624.76 L444.34,624.77 L444.59,624.78 L444.84,624.79 L445.09,624.79 L445.34,624.80 L445.59,624.80 L445.84,624.81 L446.09,624.81 L446.34,624.82 L446.59,624.82 L446.84,624.82 L447.09,624.82 L447.34,624.82 L447.59,624.82 L447.84,624.82 L448.09,624.81 L448.34,624.81 L448.59,624.80 L448.84,624.80 L449.09,624.79 L449.34,624.78 L449.59,624.78 L449.84,624.77 L450.09,624.76 L450.34,624.75 L450.59,624.74 L450.84,624.73 L451.09,624.71 L451.34,624.70 L451.59,624.68 L451.84,624.66 L452.09,624.63 L452.34,624.60 L452.59,624.56 L452.84,624.51 L453.09,624.45 L453.34,624.37 L453.59,624.27 L453.84,624.14 L454.09,623.98 L454.34,623.79 L454.59,623.55 L454.84,623.26 L455.09,622.91 L455.34,622.49 L455.59,621.95 L455.84,621.20 L456.09,620.04 L456.34,618.05 L456.59,614.54 L456.84,608.49 L457.09,598.59 L457.34,583.63 L457.59,563.04 L457.84,537.58 L458.09,509.81 L458.34,483.97 L458.59,464.98 L458.84,456.96 L459.09,459.52 L459.34,468.85 L459.59,483.73 L459.84,502.39 L460.09,522.83 L460.34,543.15 L460.59,561.83 L460.84,577.90 L461.09,590.92 L461.34,600.93 L461.59,608.25 L461.84,613.39 L462.09,616.88 L462.34,619.20 L462.59,620.73 L462.84,621.76 L463.09,622.46 L463.34,622.96 L463.59,623.34 L463.85,623.63 L464.10,623.85 L464.35,624.02 L464.60,624.15 L464.85,624.23 L465.10,624.27 L465.35,624.27 L465.60,624.22 L465.85,624.12 L466.10,623.97 L466.35,623.76 L466.60,623.48 L466.85,623.12 L467.10,622.67 L467.35,622.10 L467.60,621.35 L467.85,620.25 L468.10,618.48 L468.35,615.38 L468.60,609.86 L468.85,600.26 L469.10,584.54 L469.35,560.76 L469.60,528.05 L469.85,487.65 L470.10,443.64 L470.35,402.74 L470.60,372.72 L470.85,360.07 L471.10,364.05 L471.35,378.71 L471.60,402.08 L471.85,431.36 L472.10,463.39 L472.35,495.18 L472.60,524.37 L472.85,549.41 L473.10,569.65 L473.35,585.15 L473.60,596.46 L473.85,604.37 L474.10,609.73 L474.35,613.29 L474.60,615.64 L474.85,617.24 L475.10,618.37 L475.35,619.21 L475.60,619.89 L475.85,620.45 L476.10,620.93 L476.35,621.35 L476.60,621.71 L476.85,622.02 L477.10,622.29 L477.35,622.51 L477.60,622.70 L477.85,622.86 L478.10,622.99 L478.35,623.10 L478.60,623.18 L478.85,623.25 L479.10,623.31 L479.35,623.36 L479.60,623.40 L479.85,623.44 L480.10,623.48 L480.35,623.51 L480.60,623.54 L480.85,623.57 L481.10,623.59 L481.35,623.62 L481.60,623.65 L481.85,623.68 L482.10,623.71 L482.35,623.74 L482.60,623.77 L482.85,623.80 L483.10,623.83 L483.35,623.86 L483.60,623.89 L483.85,623.92 L484.10,623.96 L484.35,623.99 L484.60,624.02 L484.85,624.05 L485.10,624.08 L485.35,624.11 L485.60,624.14 L485.85,624.17 L486.10,624.19 L486.35,624.22 L486.60,624.24 L486.85,624.27 L487.10,624.29 L487.35,624.31 L487.60,624.33 L487.85,624.35 L488.10,624.36 L488.35,624.38 L488.60,624.39 L488.85,624.40 L489.10,624.42 L489.35,624.43 L489.60,624.44 L489.85,624.45 L490.10,624.46 L490.35,624.46 L490.60,624.47 L490.85,624.48 L491.10,624.49 L491.35,624.49 L491.60,624.50 L491.85,624.51 L492.10,624.52 L492.35,624.52 L492.60,624.53 L492.85,624.54 L493.10,624.55 L493.35,624.55 L493.60,624.56 L493.85,624.57 L494.10,624.58 L494.35,624.59 L494.60,624.60 L494.85,624.61 L495.10,624.62 L495.35,624.63 L495.60,624.64 L495.85,624.65 L496.10,624.67 L496.35,624.68 L496.60,624.69 L496.85,624.70 L497.10,624.71 L497.35,624.72 L497.60,624.72 L497.85,624.72 L498.10,624.70 L498.35,624.65 L498.60,624.56 L498.85,624.39 L499.10,624.12 L499.35,623.73 L499.60,623.19 L499.85,622.53 L500.10,621.78 L500.35,621.02 L500.60,620.36 L500.85,619.90 L501.10,619.72 L501.35,619.81 L501.60,620.08 L501.85,620.52 L502.10,621.06 L502.35,621.67 L502.61,622.28 L502.86,622.85 L503.11,623.34 L503.36,623.75 L503.61,624.07 L503.86,624.31 L504.11,624.47 L504.36,624.58 L504.61,624.64 L504.86,624.68 L505.11,624.70 L505.36,624.70 L505.61,624.70 L505.86,624.69 L506.11,624.69 L506.36,624.68 L506.61,624.67 L506.86,624.66 L507.11,624.65 L507.36,624.64 L507.61,624.63 L507.86,624.62 L508.11,624.61 L508.36,624.61 L508.61,624.60 L508.86,624.60 L509.11,624.59 L509.36,624.59 L509.61,624.58 L509.86,624.58 L510.11,624.58 L510.36,624.58 L510.61,624.58 L510.86,624.58 L511.11,624.58 L511.36,624.59 L511.61,624.59 L511.86,624.60 L512.11,624.60 L512.36,624.60 L512.61,624.60 L512.86,624.59 L513.11,624.56 L513.36,624.50 L513.61,624.39 L513.86,624.21 L514.11,623.92 L514.36,623.51 L514.61,622.98 L514.86,622.36 L515.11,621.69 L515.36,621.06 L515.61,620.56 L515.86,620.29 L516.11,620.27 L516.36,620.44 L516.61,620.77 L516.86,621.22 L517.11,621.75 L517.36,622.30 L517.61,622.83 L517.86,623.32 L518.11,623.73 L518.36,624.05 L518.61,624.31 L518.86,624.49 L519.11,624.62 L519.36,624.70 L519.61,624.75 L519.86,624.78 L520.11,624.79 L520.36,624.80 L520.61,624.80 L520.86,624.78 L521.11,624.75 L521.36,624.68 L521.61,624.55 L521.86,624.29 L522.11,623.84 L522.36,623.11 L522.61,622.02 L522.86,620.54 L523.11,618.71 L523.36,616.69 L523.61,614.73 L523.86,613.14 L524.11,612.23 L524.36,612.13 L524.61,612.64 L524.86,613.62 L525.11,614.96 L525.36,616.51 L525.61,618.10 L525.86,619.60 L526.11,620.93 L526.36,622.01 L526.61,622.86 L526.86,623.47 L527.11,623.90 L527.36,624.18 L527.61,624.35 L527.86,624.46 L528.11,624.52 L528.36,624.55 L528.61,624.57 L528.86,624.57 L529.11,624.58 L529.36,624.58 L529.61,624.58 L529.86,624.58 L530.11,624.57 L530.36,624.55 L530.61,624.51 L530.86,624.45 L531.11,624.37 L531.36,624.25 L531.61,624.09 L531.86,623.91 L532.11,623.71 L532.36,623.51 L532.61,623.33 L532.86,623.19 L533.11,623.12 L533.36,623.12 L533.61,623.18 L533.86,623.29 L534.11,623.44 L534.36,623.61 L534.61,623.79 L534.86,623.97 L535.11,624.15 L535.36,624.30 L535.61,624.43 L535.86,624.54 L536.11,624.63 L536.36,624.69 L536.61,624.74 L536.86,624.77 L537.11,624.79 L537.36,624.80 L537.61,624.81 L537.86,624.81 L538.11,624.81 L538.36,624.81 L538.61,624.81 L538.86,624.80 L539.11,624.80 L539.36,624.79 L539.61,624.78 L539.86,624.77 L540.11,624.75 L540.36,624.74 L540.61,624.72 L540.86,624.70 L541.11,624.67 L541.37,624.65 L541.62,624.61 L541.87,624.58 L542.12,624.54 L542.37,624.50 L542.62,624.45 L542.87,624.40 L543.12,624.35 L543.37,624.30 L543.62,624.25 L543.87,624.21 L544.12,624.17 L544.37,624.14 L544.62,624.11 L544.87,624.10 L545.12,624.09 L545.37,624.10 L545.62,624.11 L545.87,624.13 L546.12,624.16 L546.37,624.20 L546.62,624.24 L546.87,624.28 L547.12,624.32 L547.37,624.36 L547.62,624.40 L547.87,624.44 L548.12,624.47 L548.37,624.51 L548.62,624.53 L548.87,624.56 L549.12,624.58 L549.37,624.60 L549.62,624.62 L549.87,624.64 L550.12,624.65 L550.37,624.67 L550.62,624.68 L550.87,624.69 L551.12,624.70 L551.37,624.72 L551.62,624.73 L551.87,624.74 L552.12,624.75 L552.37,624.76 L552.62,624.77 L552.87,624.77 L553.12,624.78 L553.37,624.79 L553.62,624.80 L553.87,624.80 L554.12,624.81 L554.37,624.81 L554.62,624.81 L554.87,624.82 L555.12,624.82 L555.37,624.82 L555.62,624.82 L555.87,624.82 L556.12,624.82 L556.37,624.81 L556.62,624.81 L556.87,624.81 L557.12,624.80 L557.37,624.79 L557.62,624.79 L557.87,624.78 L558.12,624.77 L558.37,624.76 L558.62,624.76 L558.87,624.75 L559.12,624.74 L559.37,624.73 L559.62,624.72 L559.87,624.70 L560.12,624.69 L560.37,624.68 L560.62,624.67 L560.87,624.66 L561.12,624.65 L561.37,624.64 L561.62,624.64 L561.87,624.63 L562.12,624.62 L562.37,624.61 L562.62,624.60 L562.87,624.60 L563.12,624.59 L563.37,624.59 L563.62,624.59 L563.87,624.58 L564.12,624.58 L564.37,624.58 L564.62,624.58 L564.87,624.58 L565.12,624.58 L565.37,624.59 L565.62,624.59 L565.87,624.59 L566.12,624.60 L566.37,624.60 L566.62,624.61 L566.87,624.62 L567.12,624.63 L567.37,624.63 L567.62,624.64 L567.87,624.65 L568.12,624.66 L568.37,624.67 L568.62,624.68 L568.87,624.69 L569.12,624.70 L569.37,624.71 L569.62,624.72 L569.87,624.74 L570.12,624.74 L570.37,624.75 L570.62,624.76 L570.87,624.77 L571.12,624.78 L571.37,624.79 L571.62,624.79 L571.87,624.80 L572.12,624.81 L572.37,624.81 L572.62,624.81 L572.87,624.82 L573.12,624.82 L573.37,624.82 L573.62,624.82 L573.87,624.82 L574.12,624.82 L574.37,624.81 L574.62,624.81 L574.87,624.81 L575.12,624.80 L575.37,624.80 L575.62,624.79 L575.87,624.78 L576.12,624.77 L576.37,624.77 L576.62,624.76 L576.87,624.75 L577.12,624.74 L577.37,624.73 L577.62,624.72 L577.87,624.71 L578.12,624.70 L578.37,624.69 L578.62,624.68 L578.87,624.67 L579.12,624.66 L579.37,624.65 L579.62,624.64 L579.87,624.63" fill="none" stroke-width="2.1" stroke-linejoin="round" stroke-linecap="butt"/></g>
</svg>
</body></html>
